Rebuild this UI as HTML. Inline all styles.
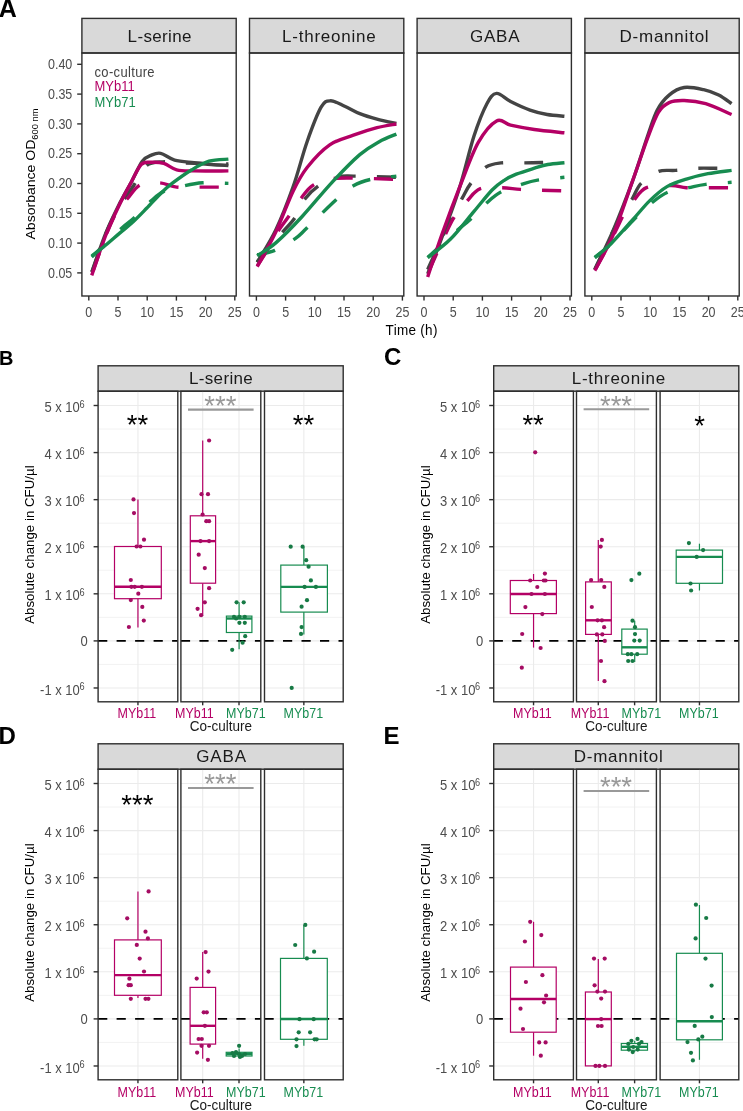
<!DOCTYPE html>
<html><head><meta charset="utf-8"><style>
html,body{margin:0;padding:0;background:#fff;}
svg{display:block;font-family:"Liberation Sans", sans-serif;will-change:transform;}
</style></head><body>
<svg width="743" height="1111" viewBox="0 0 743 1111">
<rect x="81.9" y="18.4" width="154.3" height="34.6" fill="#d9d9d9" stroke="#2e2e2e" stroke-width="1.4"/>
<text x="159.55" y="41.5" font-size="17" fill="#1a1a1a" text-anchor="middle" font-weight="normal" textLength="63.9" lengthAdjust="spacing">L-serine</text>
<line x1="88.8" y1="296" x2="88.8" y2="300.6" stroke="#2e2e2e" stroke-width="1.4" stroke-linecap="butt"/>
<text transform="translate(88.8,317) scale(1,1.13)" font-size="12.5" fill="#4d4d4d" text-anchor="middle" >0</text>
<line x1="118" y1="296" x2="118" y2="300.6" stroke="#2e2e2e" stroke-width="1.4" stroke-linecap="butt"/>
<text transform="translate(118,317) scale(1,1.13)" font-size="12.5" fill="#4d4d4d" text-anchor="middle" >5</text>
<line x1="147.2" y1="296" x2="147.2" y2="300.6" stroke="#2e2e2e" stroke-width="1.4" stroke-linecap="butt"/>
<text transform="translate(147.2,317) scale(1,1.13)" font-size="12.5" fill="#4d4d4d" text-anchor="middle" >10</text>
<line x1="176.4" y1="296" x2="176.4" y2="300.6" stroke="#2e2e2e" stroke-width="1.4" stroke-linecap="butt"/>
<text transform="translate(176.4,317) scale(1,1.13)" font-size="12.5" fill="#4d4d4d" text-anchor="middle" >15</text>
<line x1="205.6" y1="296" x2="205.6" y2="300.6" stroke="#2e2e2e" stroke-width="1.4" stroke-linecap="butt"/>
<text transform="translate(205.6,317) scale(1,1.13)" font-size="12.5" fill="#4d4d4d" text-anchor="middle" >20</text>
<line x1="234.8" y1="296" x2="234.8" y2="300.6" stroke="#2e2e2e" stroke-width="1.4" stroke-linecap="butt"/>
<text transform="translate(234.8,317) scale(1,1.13)" font-size="12.5" fill="#4d4d4d" text-anchor="middle" >25</text>
<rect x="249.5" y="18.4" width="154.3" height="34.6" fill="#d9d9d9" stroke="#2e2e2e" stroke-width="1.4"/>
<text x="328.85" y="41.5" font-size="17" fill="#1a1a1a" text-anchor="middle" font-weight="normal" textLength="93.5" lengthAdjust="spacing">L-threonine</text>
<line x1="256.4" y1="296" x2="256.4" y2="300.6" stroke="#2e2e2e" stroke-width="1.4" stroke-linecap="butt"/>
<text transform="translate(256.4,317) scale(1,1.13)" font-size="12.5" fill="#4d4d4d" text-anchor="middle" >0</text>
<line x1="285.6" y1="296" x2="285.6" y2="300.6" stroke="#2e2e2e" stroke-width="1.4" stroke-linecap="butt"/>
<text transform="translate(285.6,317) scale(1,1.13)" font-size="12.5" fill="#4d4d4d" text-anchor="middle" >5</text>
<line x1="314.8" y1="296" x2="314.8" y2="300.6" stroke="#2e2e2e" stroke-width="1.4" stroke-linecap="butt"/>
<text transform="translate(314.8,317) scale(1,1.13)" font-size="12.5" fill="#4d4d4d" text-anchor="middle" >10</text>
<line x1="344" y1="296" x2="344" y2="300.6" stroke="#2e2e2e" stroke-width="1.4" stroke-linecap="butt"/>
<text transform="translate(344,317) scale(1,1.13)" font-size="12.5" fill="#4d4d4d" text-anchor="middle" >15</text>
<line x1="373.2" y1="296" x2="373.2" y2="300.6" stroke="#2e2e2e" stroke-width="1.4" stroke-linecap="butt"/>
<text transform="translate(373.2,317) scale(1,1.13)" font-size="12.5" fill="#4d4d4d" text-anchor="middle" >20</text>
<line x1="402.4" y1="296" x2="402.4" y2="300.6" stroke="#2e2e2e" stroke-width="1.4" stroke-linecap="butt"/>
<text transform="translate(402.4,317) scale(1,1.13)" font-size="12.5" fill="#4d4d4d" text-anchor="middle" >25</text>
<rect x="417.1" y="18.4" width="154.3" height="34.6" fill="#d9d9d9" stroke="#2e2e2e" stroke-width="1.4"/>
<text x="494.75" y="41.5" font-size="17" fill="#1a1a1a" text-anchor="middle" font-weight="normal" textLength="49.7" lengthAdjust="spacing">GABA</text>
<line x1="424" y1="296" x2="424" y2="300.6" stroke="#2e2e2e" stroke-width="1.4" stroke-linecap="butt"/>
<text transform="translate(424,317) scale(1,1.13)" font-size="12.5" fill="#4d4d4d" text-anchor="middle" >0</text>
<line x1="453.2" y1="296" x2="453.2" y2="300.6" stroke="#2e2e2e" stroke-width="1.4" stroke-linecap="butt"/>
<text transform="translate(453.2,317) scale(1,1.13)" font-size="12.5" fill="#4d4d4d" text-anchor="middle" >5</text>
<line x1="482.4" y1="296" x2="482.4" y2="300.6" stroke="#2e2e2e" stroke-width="1.4" stroke-linecap="butt"/>
<text transform="translate(482.4,317) scale(1,1.13)" font-size="12.5" fill="#4d4d4d" text-anchor="middle" >10</text>
<line x1="511.6" y1="296" x2="511.6" y2="300.6" stroke="#2e2e2e" stroke-width="1.4" stroke-linecap="butt"/>
<text transform="translate(511.6,317) scale(1,1.13)" font-size="12.5" fill="#4d4d4d" text-anchor="middle" >15</text>
<line x1="540.8" y1="296" x2="540.8" y2="300.6" stroke="#2e2e2e" stroke-width="1.4" stroke-linecap="butt"/>
<text transform="translate(540.8,317) scale(1,1.13)" font-size="12.5" fill="#4d4d4d" text-anchor="middle" >20</text>
<line x1="570" y1="296" x2="570" y2="300.6" stroke="#2e2e2e" stroke-width="1.4" stroke-linecap="butt"/>
<text transform="translate(570,317) scale(1,1.13)" font-size="12.5" fill="#4d4d4d" text-anchor="middle" >25</text>
<rect x="584.9" y="18.4" width="154.3" height="34.6" fill="#d9d9d9" stroke="#2e2e2e" stroke-width="1.4"/>
<text x="664.05" y="41.5" font-size="17" fill="#1a1a1a" text-anchor="middle" font-weight="normal" textLength="89.2" lengthAdjust="spacing">D-mannitol</text>
<line x1="591.8" y1="296" x2="591.8" y2="300.6" stroke="#2e2e2e" stroke-width="1.4" stroke-linecap="butt"/>
<text transform="translate(591.8,317) scale(1,1.13)" font-size="12.5" fill="#4d4d4d" text-anchor="middle" >0</text>
<line x1="621" y1="296" x2="621" y2="300.6" stroke="#2e2e2e" stroke-width="1.4" stroke-linecap="butt"/>
<text transform="translate(621,317) scale(1,1.13)" font-size="12.5" fill="#4d4d4d" text-anchor="middle" >5</text>
<line x1="650.2" y1="296" x2="650.2" y2="300.6" stroke="#2e2e2e" stroke-width="1.4" stroke-linecap="butt"/>
<text transform="translate(650.2,317) scale(1,1.13)" font-size="12.5" fill="#4d4d4d" text-anchor="middle" >10</text>
<line x1="679.4" y1="296" x2="679.4" y2="300.6" stroke="#2e2e2e" stroke-width="1.4" stroke-linecap="butt"/>
<text transform="translate(679.4,317) scale(1,1.13)" font-size="12.5" fill="#4d4d4d" text-anchor="middle" >15</text>
<line x1="708.6" y1="296" x2="708.6" y2="300.6" stroke="#2e2e2e" stroke-width="1.4" stroke-linecap="butt"/>
<text transform="translate(708.6,317) scale(1,1.13)" font-size="12.5" fill="#4d4d4d" text-anchor="middle" >20</text>
<line x1="737.8" y1="296" x2="737.8" y2="300.6" stroke="#2e2e2e" stroke-width="1.4" stroke-linecap="butt"/>
<text transform="translate(737.8,317) scale(1,1.13)" font-size="12.5" fill="#4d4d4d" text-anchor="middle" >25</text>
<line x1="77.2" y1="272.9" x2="81.9" y2="272.9" stroke="#2e2e2e" stroke-width="1.4" stroke-linecap="butt"/>
<text transform="translate(72.3,277.5) scale(1,1.13)" font-size="12.5" fill="#4d4d4d" text-anchor="end" >0.05</text>
<line x1="77.2" y1="243.1" x2="81.9" y2="243.1" stroke="#2e2e2e" stroke-width="1.4" stroke-linecap="butt"/>
<text transform="translate(72.3,247.7) scale(1,1.13)" font-size="12.5" fill="#4d4d4d" text-anchor="end" >0.10</text>
<line x1="77.2" y1="213.3" x2="81.9" y2="213.3" stroke="#2e2e2e" stroke-width="1.4" stroke-linecap="butt"/>
<text transform="translate(72.3,217.9) scale(1,1.13)" font-size="12.5" fill="#4d4d4d" text-anchor="end" >0.15</text>
<line x1="77.2" y1="183.5" x2="81.9" y2="183.5" stroke="#2e2e2e" stroke-width="1.4" stroke-linecap="butt"/>
<text transform="translate(72.3,188.1) scale(1,1.13)" font-size="12.5" fill="#4d4d4d" text-anchor="end" >0.20</text>
<line x1="77.2" y1="153.7" x2="81.9" y2="153.7" stroke="#2e2e2e" stroke-width="1.4" stroke-linecap="butt"/>
<text transform="translate(72.3,158.3) scale(1,1.13)" font-size="12.5" fill="#4d4d4d" text-anchor="end" >0.25</text>
<line x1="77.2" y1="123.9" x2="81.9" y2="123.9" stroke="#2e2e2e" stroke-width="1.4" stroke-linecap="butt"/>
<text transform="translate(72.3,128.5) scale(1,1.13)" font-size="12.5" fill="#4d4d4d" text-anchor="end" >0.30</text>
<line x1="77.2" y1="94.1" x2="81.9" y2="94.1" stroke="#2e2e2e" stroke-width="1.4" stroke-linecap="butt"/>
<text transform="translate(72.3,98.7) scale(1,1.13)" font-size="12.5" fill="#4d4d4d" text-anchor="end" >0.35</text>
<line x1="77.2" y1="64.3" x2="81.9" y2="64.3" stroke="#2e2e2e" stroke-width="1.4" stroke-linecap="butt"/>
<text transform="translate(72.3,68.9) scale(1,1.13)" font-size="12.5" fill="#4d4d4d" text-anchor="end" >0.40</text>
<text x="-1.2" y="17.2" font-size="25" fill="#000" text-anchor="start" font-weight="bold" >A</text>
<text transform="translate(411.5,335) scale(1,1.06)" font-size="13.5" fill="#000" text-anchor="middle" font-weight="normal" textLength="51.8" lengthAdjust="spacing">Time (h)</text>
<text transform="translate(34.5,174) rotate(-90) scale(1.04,1)" font-size="13.5" fill="#000" text-anchor="middle">Absorbance OD<tspan font-size="9" dy="3">600 nm</tspan></text>
<text transform="translate(94.5,76.6) scale(1,1.08)" font-size="13" fill="#444444" text-anchor="start" font-weight="normal" textLength="60.1" lengthAdjust="spacing">co-culture</text>
<text transform="translate(94.5,91.4) scale(1,1.08)" font-size="13" fill="#b40065" text-anchor="start" font-weight="normal" >MYb11</text>
<text transform="translate(94.5,106.5) scale(1,1.08)" font-size="13" fill="#178c50" text-anchor="start" font-weight="normal" >MYb71</text>
<rect x="81.9" y="53" width="154.3" height="243" fill="none" stroke="#2e2e2e" stroke-width="1.4"/>
<rect x="249.5" y="53" width="154.3" height="243" fill="none" stroke="#2e2e2e" stroke-width="1.4"/>
<rect x="417.1" y="53" width="154.3" height="243" fill="none" stroke="#2e2e2e" stroke-width="1.4"/>
<rect x="584.9" y="53" width="154.3" height="243" fill="none" stroke="#2e2e2e" stroke-width="1.4"/>
<path d="M91.7,273 C94.03,266.5 101.22,245 105.7,234 C110.18,223 115.22,213.17 118.6,207 C121.98,200.83 123.43,200.67 126,197 C128.57,193.33 130.57,190.25 134,185 C137.43,179.75 141.8,169.35 146.6,165.5 C151.4,161.65 157.23,162.32 162.8,161.9 C168.37,161.48 169.07,162.65 180,163 C190.93,163.35 220.33,163.83 228.4,164" fill="none" stroke="#444444" stroke-width="3.4" stroke-linejoin="round" stroke-dasharray="19 21" stroke-dashoffset="-1.6"/>
<path d="M91.7,275 C94.03,268.5 101.22,247.17 105.7,236 C110.18,224.83 115.02,214.18 118.6,208 C122.18,201.82 123.62,202.75 127.2,198.9 C130.78,195.05 134.72,187.58 140.1,184.9 C145.48,182.22 153.4,182.43 159.5,182.8 C165.6,183.17 170.05,186.38 176.7,187.1 C183.35,187.82 190.78,187.1 199.4,187.1 C208.02,187.1 223.57,187.1 228.4,187.1" fill="none" stroke="#b40065" stroke-width="3.4" stroke-linejoin="round" stroke-dasharray="19 21" stroke-dashoffset="-4.4"/>
<path d="M91.7,257 C96.55,252.33 113.8,235.45 120.8,229 C127.8,222.55 128.68,222.95 133.7,218.3 C138.72,213.65 145.88,205.58 150.9,201.1 C155.92,196.62 158.42,193.92 163.8,191.4 C169.18,188.88 176.73,187.43 183.2,186 C189.67,184.57 195.07,183.23 202.6,182.8 C210.13,182.37 224.1,183.3 228.4,183.4" fill="none" stroke="#178c50" stroke-width="3.4" stroke-linejoin="round" stroke-dasharray="19 21" stroke-dashoffset="0.3"/>
<path d="M91.7,272.1 C94.03,265.65 101.22,244.52 105.7,233.4 C110.18,222.28 114.3,214.02 118.6,205.4 C122.9,196.78 127.55,189.07 131.5,181.7 C135.45,174.33 139.07,165.58 142.3,161.2 C145.53,156.82 147.85,156.72 150.9,155.4 C153.95,154.08 156.65,152.52 160.6,153.3 C164.55,154.08 169.03,158.53 174.6,160.1 C180.17,161.67 187.9,161.97 194,162.7 C200.1,163.43 205.47,164.03 211.2,164.5 C216.93,164.97 225.53,165.33 228.4,165.5" fill="none" stroke="#444444" stroke-width="3.4" stroke-linejoin="round"/>
<path d="M91.7,275.4 C94.03,268.75 101.22,247 105.7,235.5 C110.18,224 114.3,215.37 118.6,206.4 C122.9,197.43 127.73,188.68 131.5,181.7 C135.27,174.72 137.97,167.73 141.2,164.5 C144.43,161.27 147.13,162.48 150.9,162.3 C154.67,162.12 159.5,162.15 163.8,163.4 C168.1,164.65 171.67,168.55 176.7,169.8 C181.73,171.05 185.38,170.72 194,170.9 C202.62,171.08 222.67,170.9 228.4,170.9" fill="none" stroke="#b40065" stroke-width="3.4" stroke-linejoin="round"/>
<path d="M91.7,256 C93.67,254.5 98.83,250.82 103.5,247 C108.17,243.18 114.85,237.22 119.7,233.1 C124.55,228.98 128.12,226.43 132.6,222.3 C137.08,218.17 141.7,213.32 146.6,208.3 C151.5,203.28 157.7,196.38 162,192.2 C166.3,188.02 167.43,186.93 172.4,183.2 C177.37,179.47 185.7,173.47 191.8,169.8 C197.9,166.13 202.9,162.98 209,161.2 C215.1,159.42 225.17,159.45 228.4,159.1" fill="none" stroke="#178c50" stroke-width="3.4" stroke-linejoin="round"/>
<path d="M257.2,262 C259.33,259.33 265.82,250.93 270,246 C274.18,241.07 278.1,237.17 282.3,232.4 C286.5,227.63 291.43,222.97 295.2,217.4 C298.97,211.83 300.95,204.3 304.9,199 C308.85,193.7 313.7,189.23 318.9,185.6 C324.1,181.97 330.35,178.78 336.1,177.2 C341.85,175.62 343.35,176.1 353.4,176.1 C363.45,176.1 389.23,177.02 396.4,177.2" fill="none" stroke="#444444" stroke-width="3.4" stroke-linejoin="round" stroke-dasharray="19 21" stroke-dashoffset="1.1"/>
<path d="M257.2,266 C259.33,262.67 266.53,251.77 270,246 C273.47,240.23 274.87,236.35 278,231.4 C281.13,226.45 285.03,221.7 288.8,216.3 C292.57,210.9 296.48,204.22 300.6,199 C304.72,193.78 307.58,188.45 313.5,185 C319.42,181.55 322.28,179.23 336.1,178.3 C349.92,177.37 386.35,179.22 396.4,179.4" fill="none" stroke="#b40065" stroke-width="3.4" stroke-linejoin="round" stroke-dasharray="19 21" stroke-dashoffset="-0.7"/>
<path d="M257.2,254.7 C260.13,253.98 268.47,253.08 274.8,250.4 C281.13,247.72 289.82,242.37 295.2,238.6 C300.58,234.83 300.28,234.27 307.1,227.8 C313.92,221.33 328.38,206.8 336.1,199.8 C343.82,192.8 347.65,189.2 353.4,185.8 C359.15,182.4 363.43,181.02 370.6,179.4 C377.77,177.78 392.1,176.65 396.4,176.1" fill="none" stroke="#178c50" stroke-width="3.4" stroke-linejoin="round" stroke-dasharray="19 21" stroke-dashoffset="0.5"/>
<path d="M257.2,262.3 C260.3,256.92 269.82,242.57 275.8,230 C281.78,217.43 287.88,201.62 293.1,186.9 C298.32,172.18 302.43,154.98 307.1,141.7 C311.77,128.42 317.17,114.02 321.1,107.2 C325.03,100.38 326.77,100.97 330.7,100.8 C334.63,100.63 339.85,104.05 344.7,106.2 C349.55,108.35 354.42,111.55 359.8,113.7 C365.18,115.85 370.9,117.48 377,119.1 C383.1,120.72 393.17,122.68 396.4,123.4" fill="none" stroke="#444444" stroke-width="3.4" stroke-linejoin="round"/>
<path d="M257.2,266.6 C260.3,260.85 269.82,244.67 275.8,232.1 C281.78,219.53 287.88,201.97 293.1,191.2 C298.32,180.43 301,175.22 307.1,167.5 C313.2,159.78 321.98,150.28 329.7,144.9 C337.42,139.52 345.52,138.07 353.4,135.2 C361.28,132.33 369.83,129.57 377,127.7 C384.17,125.83 393.17,124.62 396.4,124" fill="none" stroke="#b40065" stroke-width="3.4" stroke-linejoin="round"/>
<path d="M257.2,255.8 C260.3,253.65 268.38,249.37 275.8,242.9 C283.22,236.43 292.37,227.05 301.7,217 C311.03,206.95 322.12,193 331.8,182.6 C341.48,172.2 351.9,161.42 359.8,154.6 C367.7,147.78 373.1,145.12 379.2,141.7 C385.3,138.28 393.53,135.37 396.4,134.1" fill="none" stroke="#178c50" stroke-width="3.4" stroke-linejoin="round"/>
<path d="M427.7,269.5 C431.47,261.25 444.57,231.85 450.3,220 C456.03,208.15 458.68,204.5 462.1,198.4 C465.52,192.3 466.85,188.6 470.8,183.4 C474.75,178.2 480.78,170.62 485.8,167.2 C490.82,163.78 494.62,163.62 500.9,162.9 C507.18,162.18 516.68,162.97 523.5,162.9 C530.32,162.83 534.98,162.57 541.8,162.5 C548.62,162.43 560.63,162.5 564.4,162.5" fill="none" stroke="#444444" stroke-width="3.4" stroke-linejoin="round" stroke-dasharray="19 21" stroke-dashoffset="2.2"/>
<path d="M427.7,273.8 C431.83,264.83 445.87,232.2 452.5,220 C459.13,207.8 462.85,205.82 467.5,200.6 C472.15,195.38 474.65,190.85 480.4,188.7 C486.15,186.55 495.35,187.58 502,187.7 C508.65,187.82 513.67,188.97 520.3,189.4 C526.93,189.83 534.45,190.05 541.8,190.3 C549.15,190.55 560.63,190.8 564.4,190.9" fill="none" stroke="#b40065" stroke-width="3.4" stroke-linejoin="round" stroke-dasharray="19 21" stroke-dashoffset="-3.5"/>
<path d="M427.7,257.6 C432.55,253.12 449.8,236.97 456.8,230.7 C463.8,224.43 464.68,224.67 469.7,220 C474.72,215.33 481.7,207.37 486.9,202.7 C492.1,198.03 495.15,195.05 500.9,192 C506.65,188.95 515.3,186.38 521.4,184.4 C527.5,182.42 530.33,181.28 537.5,180.1 C544.67,178.92 559.92,177.77 564.4,177.3" fill="none" stroke="#178c50" stroke-width="3.4" stroke-linejoin="round" stroke-dasharray="19 21" stroke-dashoffset="0.2"/>
<path d="M427.7,273.8 C429.67,268.78 434.3,257.7 439.5,243.7 C444.7,229.7 453.15,207.75 458.9,189.8 C464.65,171.85 469.33,150.35 474,136 C478.67,121.65 483.13,110.8 486.9,103.7 C490.67,96.6 492.65,93.77 496.6,93.4 C500.55,93.03 505.03,98.72 510.6,101.5 C516.17,104.28 523.9,107.93 530,110.1 C536.1,112.27 541.47,113.48 547.2,114.5 C552.93,115.52 561.53,115.92 564.4,116.2" fill="none" stroke="#444444" stroke-width="3.4" stroke-linejoin="round"/>
<path d="M427.7,277 C430.03,270 436.13,250.6 441.7,235 C447.27,219.4 455,198.83 461.1,183.4 C467.2,167.97 472.38,152.82 478.3,142.4 C484.22,131.98 491.22,123.77 496.6,120.9 C501.98,118.03 504.32,123.77 510.6,125.2 C516.88,126.63 525.33,128.23 534.3,129.5 C543.27,130.77 559.38,132.25 564.4,132.8" fill="none" stroke="#b40065" stroke-width="3.4" stroke-linejoin="round"/>
<path d="M427.7,257.6 C431.47,254.55 442.58,247 450.3,239.3 C458.02,231.6 467.03,219.62 474,211.4 C480.97,203.18 487.07,195.18 492.1,190 C497.13,184.82 500.17,182.93 504.2,180.3 C508.23,177.67 511.25,176.22 516.3,174.2 C521.35,172.18 529.25,169.82 534.5,168.2 C539.75,166.58 542.82,165.42 547.8,164.5 C552.78,163.58 561.63,163 564.4,162.7" fill="none" stroke="#178c50" stroke-width="3.4" stroke-linejoin="round"/>
<path d="M594.8,269.5 C597.85,263.08 608.07,240.92 613.1,231 C618.13,221.08 621.77,215.43 625,210 C628.23,204.57 629.82,202.83 632.5,198.4 C635.18,193.97 636.78,187.88 641.1,183.4 C645.42,178.92 652.65,173.67 658.4,171.5 C664.15,169.33 669.15,170.93 675.6,170.4 C682.05,169.87 690.28,168.65 697.1,168.3 C703.92,167.95 710.75,168.3 716.5,168.3 C722.25,168.3 729.08,168.3 731.6,168.3" fill="none" stroke="#444444" stroke-width="3.4" stroke-linejoin="round" stroke-dasharray="19 21" stroke-dashoffset="0.8"/>
<path d="M594.8,270.6 C597.85,264.83 608.07,245.77 613.1,236 C618.13,226.23 621.58,217.9 625,212 C628.42,206.1 630.02,204.65 633.6,200.6 C637.18,196.55 640.22,190.22 646.5,187.7 C652.78,185.18 664.65,185.5 671.3,185.5 C677.95,185.5 680.3,187.33 686.4,187.7 C692.5,188.07 700.37,187.7 707.9,187.7 C715.43,187.7 727.65,187.7 731.6,187.7" fill="none" stroke="#b40065" stroke-width="3.4" stroke-linejoin="round" stroke-dasharray="19 21" stroke-dashoffset="-1.5"/>
<path d="M594.8,257.6 C597.5,255.33 604.72,250.1 611,244 C617.28,237.9 625.68,227.88 632.5,221 C639.32,214.12 645.97,207.53 651.9,202.7 C657.83,197.87 662,194.5 668.1,192 C674.2,189.5 682.23,188.97 688.5,187.7 C694.77,186.43 698.52,185.3 705.7,184.4 C712.88,183.5 727.28,182.65 731.6,182.3" fill="none" stroke="#178c50" stroke-width="3.4" stroke-linejoin="round" stroke-dasharray="19 21" stroke-dashoffset="0.7"/>
<path d="M594.8,269.5 C597.85,263.03 606.82,245.42 613.1,230.7 C619.38,215.98 626.75,196.98 632.5,181.2 C638.25,165.42 643.47,147.85 647.6,136 C651.73,124.15 653.72,116.92 657.3,110.1 C660.88,103.28 664.62,98.87 669.1,95.1 C673.58,91.33 678.45,88.4 684.2,87.5 C689.95,86.6 697.85,88.43 703.6,89.7 C709.35,90.97 714.03,92.77 718.7,95.1 C723.37,97.43 729.45,102.27 731.6,103.7" fill="none" stroke="#444444" stroke-width="3.4" stroke-linejoin="round"/>
<path d="M594.8,270.6 C597.85,264.67 606.82,249.9 613.1,235 C619.38,220.1 626.75,197.35 632.5,181.2 C638.25,165.05 643.28,149.58 647.6,138.1 C651.92,126.62 654.82,118.22 658.4,112.3 C661.98,106.38 664.8,104.57 669.1,102.6 C673.4,100.63 678.1,100.32 684.2,100.5 C690.3,100.68 697.8,101.37 705.7,103.7 C713.6,106.03 727.28,112.7 731.6,114.5" fill="none" stroke="#b40065" stroke-width="3.4" stroke-linejoin="round"/>
<path d="M594.8,257.6 C597.5,255.28 604.72,249.97 611,243.7 C617.28,237.43 626.03,227.18 632.5,220 C638.97,212.82 644.05,206.17 649.8,200.6 C655.55,195.03 660.9,190.18 667,186.6 C673.1,183.02 679.58,181.25 686.4,179.1 C693.22,176.95 700.37,175.15 707.9,173.7 C715.43,172.25 727.65,170.95 731.6,170.4" fill="none" stroke="#178c50" stroke-width="3.4" stroke-linejoin="round"/>
<rect x="98.1" y="365.8" width="245.1" height="25.4" fill="#d9d9d9" stroke="#2e2e2e" stroke-width="1.4"/>
<text x="220.85" y="384.4" font-size="17" fill="#1a1a1a" text-anchor="middle" font-weight="normal" textLength="63.9" lengthAdjust="spacing">L-serine</text>
<line x1="98.1" y1="687.98" x2="177.8" y2="687.98" stroke="#ebebeb" stroke-width="1.1" stroke-linecap="butt"/>
<line x1="98.1" y1="664.44" x2="177.8" y2="664.44" stroke="#ebebeb" stroke-width="0.6" stroke-linecap="butt"/>
<line x1="98.1" y1="640.9" x2="177.8" y2="640.9" stroke="#ebebeb" stroke-width="1.1" stroke-linecap="butt"/>
<line x1="98.1" y1="617.36" x2="177.8" y2="617.36" stroke="#ebebeb" stroke-width="0.6" stroke-linecap="butt"/>
<line x1="98.1" y1="593.82" x2="177.8" y2="593.82" stroke="#ebebeb" stroke-width="1.1" stroke-linecap="butt"/>
<line x1="98.1" y1="570.28" x2="177.8" y2="570.28" stroke="#ebebeb" stroke-width="0.6" stroke-linecap="butt"/>
<line x1="98.1" y1="546.74" x2="177.8" y2="546.74" stroke="#ebebeb" stroke-width="1.1" stroke-linecap="butt"/>
<line x1="98.1" y1="523.2" x2="177.8" y2="523.2" stroke="#ebebeb" stroke-width="0.6" stroke-linecap="butt"/>
<line x1="98.1" y1="499.66" x2="177.8" y2="499.66" stroke="#ebebeb" stroke-width="1.1" stroke-linecap="butt"/>
<line x1="98.1" y1="476.12" x2="177.8" y2="476.12" stroke="#ebebeb" stroke-width="0.6" stroke-linecap="butt"/>
<line x1="98.1" y1="452.58" x2="177.8" y2="452.58" stroke="#ebebeb" stroke-width="1.1" stroke-linecap="butt"/>
<line x1="98.1" y1="429.04" x2="177.8" y2="429.04" stroke="#ebebeb" stroke-width="0.6" stroke-linecap="butt"/>
<line x1="98.1" y1="405.5" x2="177.8" y2="405.5" stroke="#ebebeb" stroke-width="1.1" stroke-linecap="butt"/>
<line x1="137.95" y1="391.2" x2="137.95" y2="701.8" stroke="#ebebeb" stroke-width="1.1" stroke-linecap="butt"/>
<line x1="137.95" y1="701.8" x2="137.95" y2="705.3" stroke="#2e2e2e" stroke-width="1.4" stroke-linecap="butt"/>
<line x1="98.1" y1="640.9" x2="177.8" y2="640.9" stroke="#000" stroke-width="1.9" stroke-linecap="butt" stroke-dasharray="9.2 9.3"/>
<rect x="98.1" y="391.2" width="79.7" height="310.6" fill="none" stroke="#2e2e2e" stroke-width="1.4"/>
<line x1="180.9" y1="687.98" x2="260.8" y2="687.98" stroke="#ebebeb" stroke-width="1.1" stroke-linecap="butt"/>
<line x1="180.9" y1="664.44" x2="260.8" y2="664.44" stroke="#ebebeb" stroke-width="0.6" stroke-linecap="butt"/>
<line x1="180.9" y1="640.9" x2="260.8" y2="640.9" stroke="#ebebeb" stroke-width="1.1" stroke-linecap="butt"/>
<line x1="180.9" y1="617.36" x2="260.8" y2="617.36" stroke="#ebebeb" stroke-width="0.6" stroke-linecap="butt"/>
<line x1="180.9" y1="593.82" x2="260.8" y2="593.82" stroke="#ebebeb" stroke-width="1.1" stroke-linecap="butt"/>
<line x1="180.9" y1="570.28" x2="260.8" y2="570.28" stroke="#ebebeb" stroke-width="0.6" stroke-linecap="butt"/>
<line x1="180.9" y1="546.74" x2="260.8" y2="546.74" stroke="#ebebeb" stroke-width="1.1" stroke-linecap="butt"/>
<line x1="180.9" y1="523.2" x2="260.8" y2="523.2" stroke="#ebebeb" stroke-width="0.6" stroke-linecap="butt"/>
<line x1="180.9" y1="499.66" x2="260.8" y2="499.66" stroke="#ebebeb" stroke-width="1.1" stroke-linecap="butt"/>
<line x1="180.9" y1="476.12" x2="260.8" y2="476.12" stroke="#ebebeb" stroke-width="0.6" stroke-linecap="butt"/>
<line x1="180.9" y1="452.58" x2="260.8" y2="452.58" stroke="#ebebeb" stroke-width="1.1" stroke-linecap="butt"/>
<line x1="180.9" y1="429.04" x2="260.8" y2="429.04" stroke="#ebebeb" stroke-width="0.6" stroke-linecap="butt"/>
<line x1="180.9" y1="405.5" x2="260.8" y2="405.5" stroke="#ebebeb" stroke-width="1.1" stroke-linecap="butt"/>
<line x1="202.69" y1="391.2" x2="202.69" y2="701.8" stroke="#ebebeb" stroke-width="1.1" stroke-linecap="butt"/>
<line x1="202.69" y1="701.8" x2="202.69" y2="705.3" stroke="#2e2e2e" stroke-width="1.4" stroke-linecap="butt"/>
<line x1="239.01" y1="391.2" x2="239.01" y2="701.8" stroke="#ebebeb" stroke-width="1.1" stroke-linecap="butt"/>
<line x1="239.01" y1="701.8" x2="239.01" y2="705.3" stroke="#2e2e2e" stroke-width="1.4" stroke-linecap="butt"/>
<line x1="180.9" y1="640.9" x2="260.8" y2="640.9" stroke="#000" stroke-width="1.9" stroke-linecap="butt" stroke-dasharray="9.2 9.3"/>
<rect x="180.9" y="391.2" width="79.9" height="310.6" fill="none" stroke="#2e2e2e" stroke-width="1.4"/>
<line x1="264.5" y1="687.98" x2="343.2" y2="687.98" stroke="#ebebeb" stroke-width="1.1" stroke-linecap="butt"/>
<line x1="264.5" y1="664.44" x2="343.2" y2="664.44" stroke="#ebebeb" stroke-width="0.6" stroke-linecap="butt"/>
<line x1="264.5" y1="640.9" x2="343.2" y2="640.9" stroke="#ebebeb" stroke-width="1.1" stroke-linecap="butt"/>
<line x1="264.5" y1="617.36" x2="343.2" y2="617.36" stroke="#ebebeb" stroke-width="0.6" stroke-linecap="butt"/>
<line x1="264.5" y1="593.82" x2="343.2" y2="593.82" stroke="#ebebeb" stroke-width="1.1" stroke-linecap="butt"/>
<line x1="264.5" y1="570.28" x2="343.2" y2="570.28" stroke="#ebebeb" stroke-width="0.6" stroke-linecap="butt"/>
<line x1="264.5" y1="546.74" x2="343.2" y2="546.74" stroke="#ebebeb" stroke-width="1.1" stroke-linecap="butt"/>
<line x1="264.5" y1="523.2" x2="343.2" y2="523.2" stroke="#ebebeb" stroke-width="0.6" stroke-linecap="butt"/>
<line x1="264.5" y1="499.66" x2="343.2" y2="499.66" stroke="#ebebeb" stroke-width="1.1" stroke-linecap="butt"/>
<line x1="264.5" y1="476.12" x2="343.2" y2="476.12" stroke="#ebebeb" stroke-width="0.6" stroke-linecap="butt"/>
<line x1="264.5" y1="452.58" x2="343.2" y2="452.58" stroke="#ebebeb" stroke-width="1.1" stroke-linecap="butt"/>
<line x1="264.5" y1="429.04" x2="343.2" y2="429.04" stroke="#ebebeb" stroke-width="0.6" stroke-linecap="butt"/>
<line x1="264.5" y1="405.5" x2="343.2" y2="405.5" stroke="#ebebeb" stroke-width="1.1" stroke-linecap="butt"/>
<line x1="303.85" y1="391.2" x2="303.85" y2="701.8" stroke="#ebebeb" stroke-width="1.1" stroke-linecap="butt"/>
<line x1="303.85" y1="701.8" x2="303.85" y2="705.3" stroke="#2e2e2e" stroke-width="1.4" stroke-linecap="butt"/>
<line x1="264.5" y1="640.9" x2="343.2" y2="640.9" stroke="#000" stroke-width="1.9" stroke-linecap="butt" stroke-dasharray="9.2 9.3"/>
<rect x="264.5" y="391.2" width="78.7" height="310.6" fill="none" stroke="#2e2e2e" stroke-width="1.4"/>
<line x1="93.6" y1="687.98" x2="98.1" y2="687.98" stroke="#2e2e2e" stroke-width="1.4" stroke-linecap="butt"/>
<text transform="translate(79.8,694.58) scale(1,1.13)" font-size="13" fill="#4d4d4d" text-anchor="end" >-1 x 10</text>
<text transform="translate(79.5,690.38) scale(1,1.13)" font-size="9.2" fill="#4d4d4d" text-anchor="start" >6</text>
<line x1="93.6" y1="640.9" x2="98.1" y2="640.9" stroke="#2e2e2e" stroke-width="1.4" stroke-linecap="butt"/>
<text transform="translate(87.7,645.6) scale(1,1.13)" font-size="13" fill="#4d4d4d" text-anchor="end" >0</text>
<line x1="93.6" y1="593.82" x2="98.1" y2="593.82" stroke="#2e2e2e" stroke-width="1.4" stroke-linecap="butt"/>
<text transform="translate(79.8,600.42) scale(1,1.13)" font-size="13" fill="#4d4d4d" text-anchor="end" >1 x 10</text>
<text transform="translate(79.5,596.22) scale(1,1.13)" font-size="9.2" fill="#4d4d4d" text-anchor="start" >6</text>
<line x1="93.6" y1="546.74" x2="98.1" y2="546.74" stroke="#2e2e2e" stroke-width="1.4" stroke-linecap="butt"/>
<text transform="translate(79.8,553.34) scale(1,1.13)" font-size="13" fill="#4d4d4d" text-anchor="end" >2 x 10</text>
<text transform="translate(79.5,549.14) scale(1,1.13)" font-size="9.2" fill="#4d4d4d" text-anchor="start" >6</text>
<line x1="93.6" y1="499.66" x2="98.1" y2="499.66" stroke="#2e2e2e" stroke-width="1.4" stroke-linecap="butt"/>
<text transform="translate(79.8,506.26) scale(1,1.13)" font-size="13" fill="#4d4d4d" text-anchor="end" >3 x 10</text>
<text transform="translate(79.5,502.06) scale(1,1.13)" font-size="9.2" fill="#4d4d4d" text-anchor="start" >6</text>
<line x1="93.6" y1="452.58" x2="98.1" y2="452.58" stroke="#2e2e2e" stroke-width="1.4" stroke-linecap="butt"/>
<text transform="translate(79.8,459.18) scale(1,1.13)" font-size="13" fill="#4d4d4d" text-anchor="end" >4 x 10</text>
<text transform="translate(79.5,454.98) scale(1,1.13)" font-size="9.2" fill="#4d4d4d" text-anchor="start" >6</text>
<line x1="93.6" y1="405.5" x2="98.1" y2="405.5" stroke="#2e2e2e" stroke-width="1.4" stroke-linecap="butt"/>
<text transform="translate(79.8,412.1) scale(1,1.13)" font-size="13" fill="#4d4d4d" text-anchor="end" >5 x 10</text>
<text transform="translate(79.5,407.9) scale(1,1.13)" font-size="9.2" fill="#4d4d4d" text-anchor="start" >6</text>
<text transform="translate(34.3,544.6) rotate(-90)" font-size="13.3" fill="#000" text-anchor="middle">Absolute change in CFU/µl</text>
<text transform="translate(136.8,718) scale(1,1.12)" font-size="12.5" fill="#b40065" text-anchor="middle" font-weight="normal" >MYb11</text>
<text transform="translate(194.4,718) scale(1,1.12)" font-size="12.5" fill="#b40065" text-anchor="middle" font-weight="normal" >MYb11</text>
<text transform="translate(245.8,718) scale(1,1.12)" font-size="12.5" fill="#178c50" text-anchor="middle" font-weight="normal" >MYb71</text>
<text transform="translate(303.3,718) scale(1,1.12)" font-size="12.5" fill="#178c50" text-anchor="middle" font-weight="normal" >MYb71</text>
<text transform="translate(220.85,731) scale(1,1.08)" font-size="13.5" fill="#1a1a1a" text-anchor="middle" font-weight="normal" >Co-culture</text>
<rect x="493.7" y="365.8" width="245.1" height="25.4" fill="#d9d9d9" stroke="#2e2e2e" stroke-width="1.4"/>
<text x="618.45" y="384.4" font-size="17" fill="#1a1a1a" text-anchor="middle" font-weight="normal" textLength="93.5" lengthAdjust="spacing">L-threonine</text>
<line x1="493.7" y1="687.98" x2="573.4" y2="687.98" stroke="#ebebeb" stroke-width="1.1" stroke-linecap="butt"/>
<line x1="493.7" y1="664.44" x2="573.4" y2="664.44" stroke="#ebebeb" stroke-width="0.6" stroke-linecap="butt"/>
<line x1="493.7" y1="640.9" x2="573.4" y2="640.9" stroke="#ebebeb" stroke-width="1.1" stroke-linecap="butt"/>
<line x1="493.7" y1="617.36" x2="573.4" y2="617.36" stroke="#ebebeb" stroke-width="0.6" stroke-linecap="butt"/>
<line x1="493.7" y1="593.82" x2="573.4" y2="593.82" stroke="#ebebeb" stroke-width="1.1" stroke-linecap="butt"/>
<line x1="493.7" y1="570.28" x2="573.4" y2="570.28" stroke="#ebebeb" stroke-width="0.6" stroke-linecap="butt"/>
<line x1="493.7" y1="546.74" x2="573.4" y2="546.74" stroke="#ebebeb" stroke-width="1.1" stroke-linecap="butt"/>
<line x1="493.7" y1="523.2" x2="573.4" y2="523.2" stroke="#ebebeb" stroke-width="0.6" stroke-linecap="butt"/>
<line x1="493.7" y1="499.66" x2="573.4" y2="499.66" stroke="#ebebeb" stroke-width="1.1" stroke-linecap="butt"/>
<line x1="493.7" y1="476.12" x2="573.4" y2="476.12" stroke="#ebebeb" stroke-width="0.6" stroke-linecap="butt"/>
<line x1="493.7" y1="452.58" x2="573.4" y2="452.58" stroke="#ebebeb" stroke-width="1.1" stroke-linecap="butt"/>
<line x1="493.7" y1="429.04" x2="573.4" y2="429.04" stroke="#ebebeb" stroke-width="0.6" stroke-linecap="butt"/>
<line x1="493.7" y1="405.5" x2="573.4" y2="405.5" stroke="#ebebeb" stroke-width="1.1" stroke-linecap="butt"/>
<line x1="533.55" y1="391.2" x2="533.55" y2="701.8" stroke="#ebebeb" stroke-width="1.1" stroke-linecap="butt"/>
<line x1="533.55" y1="701.8" x2="533.55" y2="705.3" stroke="#2e2e2e" stroke-width="1.4" stroke-linecap="butt"/>
<line x1="493.7" y1="640.9" x2="573.4" y2="640.9" stroke="#000" stroke-width="1.9" stroke-linecap="butt" stroke-dasharray="9.2 9.3"/>
<rect x="493.7" y="391.2" width="79.7" height="310.6" fill="none" stroke="#2e2e2e" stroke-width="1.4"/>
<line x1="576.5" y1="687.98" x2="656.4" y2="687.98" stroke="#ebebeb" stroke-width="1.1" stroke-linecap="butt"/>
<line x1="576.5" y1="664.44" x2="656.4" y2="664.44" stroke="#ebebeb" stroke-width="0.6" stroke-linecap="butt"/>
<line x1="576.5" y1="640.9" x2="656.4" y2="640.9" stroke="#ebebeb" stroke-width="1.1" stroke-linecap="butt"/>
<line x1="576.5" y1="617.36" x2="656.4" y2="617.36" stroke="#ebebeb" stroke-width="0.6" stroke-linecap="butt"/>
<line x1="576.5" y1="593.82" x2="656.4" y2="593.82" stroke="#ebebeb" stroke-width="1.1" stroke-linecap="butt"/>
<line x1="576.5" y1="570.28" x2="656.4" y2="570.28" stroke="#ebebeb" stroke-width="0.6" stroke-linecap="butt"/>
<line x1="576.5" y1="546.74" x2="656.4" y2="546.74" stroke="#ebebeb" stroke-width="1.1" stroke-linecap="butt"/>
<line x1="576.5" y1="523.2" x2="656.4" y2="523.2" stroke="#ebebeb" stroke-width="0.6" stroke-linecap="butt"/>
<line x1="576.5" y1="499.66" x2="656.4" y2="499.66" stroke="#ebebeb" stroke-width="1.1" stroke-linecap="butt"/>
<line x1="576.5" y1="476.12" x2="656.4" y2="476.12" stroke="#ebebeb" stroke-width="0.6" stroke-linecap="butt"/>
<line x1="576.5" y1="452.58" x2="656.4" y2="452.58" stroke="#ebebeb" stroke-width="1.1" stroke-linecap="butt"/>
<line x1="576.5" y1="429.04" x2="656.4" y2="429.04" stroke="#ebebeb" stroke-width="0.6" stroke-linecap="butt"/>
<line x1="576.5" y1="405.5" x2="656.4" y2="405.5" stroke="#ebebeb" stroke-width="1.1" stroke-linecap="butt"/>
<line x1="598.29" y1="391.2" x2="598.29" y2="701.8" stroke="#ebebeb" stroke-width="1.1" stroke-linecap="butt"/>
<line x1="598.29" y1="701.8" x2="598.29" y2="705.3" stroke="#2e2e2e" stroke-width="1.4" stroke-linecap="butt"/>
<line x1="634.61" y1="391.2" x2="634.61" y2="701.8" stroke="#ebebeb" stroke-width="1.1" stroke-linecap="butt"/>
<line x1="634.61" y1="701.8" x2="634.61" y2="705.3" stroke="#2e2e2e" stroke-width="1.4" stroke-linecap="butt"/>
<line x1="576.5" y1="640.9" x2="656.4" y2="640.9" stroke="#000" stroke-width="1.9" stroke-linecap="butt" stroke-dasharray="9.2 9.3"/>
<rect x="576.5" y="391.2" width="79.9" height="310.6" fill="none" stroke="#2e2e2e" stroke-width="1.4"/>
<line x1="660.1" y1="687.98" x2="738.8" y2="687.98" stroke="#ebebeb" stroke-width="1.1" stroke-linecap="butt"/>
<line x1="660.1" y1="664.44" x2="738.8" y2="664.44" stroke="#ebebeb" stroke-width="0.6" stroke-linecap="butt"/>
<line x1="660.1" y1="640.9" x2="738.8" y2="640.9" stroke="#ebebeb" stroke-width="1.1" stroke-linecap="butt"/>
<line x1="660.1" y1="617.36" x2="738.8" y2="617.36" stroke="#ebebeb" stroke-width="0.6" stroke-linecap="butt"/>
<line x1="660.1" y1="593.82" x2="738.8" y2="593.82" stroke="#ebebeb" stroke-width="1.1" stroke-linecap="butt"/>
<line x1="660.1" y1="570.28" x2="738.8" y2="570.28" stroke="#ebebeb" stroke-width="0.6" stroke-linecap="butt"/>
<line x1="660.1" y1="546.74" x2="738.8" y2="546.74" stroke="#ebebeb" stroke-width="1.1" stroke-linecap="butt"/>
<line x1="660.1" y1="523.2" x2="738.8" y2="523.2" stroke="#ebebeb" stroke-width="0.6" stroke-linecap="butt"/>
<line x1="660.1" y1="499.66" x2="738.8" y2="499.66" stroke="#ebebeb" stroke-width="1.1" stroke-linecap="butt"/>
<line x1="660.1" y1="476.12" x2="738.8" y2="476.12" stroke="#ebebeb" stroke-width="0.6" stroke-linecap="butt"/>
<line x1="660.1" y1="452.58" x2="738.8" y2="452.58" stroke="#ebebeb" stroke-width="1.1" stroke-linecap="butt"/>
<line x1="660.1" y1="429.04" x2="738.8" y2="429.04" stroke="#ebebeb" stroke-width="0.6" stroke-linecap="butt"/>
<line x1="660.1" y1="405.5" x2="738.8" y2="405.5" stroke="#ebebeb" stroke-width="1.1" stroke-linecap="butt"/>
<line x1="699.45" y1="391.2" x2="699.45" y2="701.8" stroke="#ebebeb" stroke-width="1.1" stroke-linecap="butt"/>
<line x1="699.45" y1="701.8" x2="699.45" y2="705.3" stroke="#2e2e2e" stroke-width="1.4" stroke-linecap="butt"/>
<line x1="660.1" y1="640.9" x2="738.8" y2="640.9" stroke="#000" stroke-width="1.9" stroke-linecap="butt" stroke-dasharray="9.2 9.3"/>
<rect x="660.1" y="391.2" width="78.7" height="310.6" fill="none" stroke="#2e2e2e" stroke-width="1.4"/>
<line x1="489.2" y1="687.98" x2="493.7" y2="687.98" stroke="#2e2e2e" stroke-width="1.4" stroke-linecap="butt"/>
<text transform="translate(475.4,694.58) scale(1,1.13)" font-size="13" fill="#4d4d4d" text-anchor="end" >-1 x 10</text>
<text transform="translate(475.1,690.38) scale(1,1.13)" font-size="9.2" fill="#4d4d4d" text-anchor="start" >6</text>
<line x1="489.2" y1="640.9" x2="493.7" y2="640.9" stroke="#2e2e2e" stroke-width="1.4" stroke-linecap="butt"/>
<text transform="translate(483.3,645.6) scale(1,1.13)" font-size="13" fill="#4d4d4d" text-anchor="end" >0</text>
<line x1="489.2" y1="593.82" x2="493.7" y2="593.82" stroke="#2e2e2e" stroke-width="1.4" stroke-linecap="butt"/>
<text transform="translate(475.4,600.42) scale(1,1.13)" font-size="13" fill="#4d4d4d" text-anchor="end" >1 x 10</text>
<text transform="translate(475.1,596.22) scale(1,1.13)" font-size="9.2" fill="#4d4d4d" text-anchor="start" >6</text>
<line x1="489.2" y1="546.74" x2="493.7" y2="546.74" stroke="#2e2e2e" stroke-width="1.4" stroke-linecap="butt"/>
<text transform="translate(475.4,553.34) scale(1,1.13)" font-size="13" fill="#4d4d4d" text-anchor="end" >2 x 10</text>
<text transform="translate(475.1,549.14) scale(1,1.13)" font-size="9.2" fill="#4d4d4d" text-anchor="start" >6</text>
<line x1="489.2" y1="499.66" x2="493.7" y2="499.66" stroke="#2e2e2e" stroke-width="1.4" stroke-linecap="butt"/>
<text transform="translate(475.4,506.26) scale(1,1.13)" font-size="13" fill="#4d4d4d" text-anchor="end" >3 x 10</text>
<text transform="translate(475.1,502.06) scale(1,1.13)" font-size="9.2" fill="#4d4d4d" text-anchor="start" >6</text>
<line x1="489.2" y1="452.58" x2="493.7" y2="452.58" stroke="#2e2e2e" stroke-width="1.4" stroke-linecap="butt"/>
<text transform="translate(475.4,459.18) scale(1,1.13)" font-size="13" fill="#4d4d4d" text-anchor="end" >4 x 10</text>
<text transform="translate(475.1,454.98) scale(1,1.13)" font-size="9.2" fill="#4d4d4d" text-anchor="start" >6</text>
<line x1="489.2" y1="405.5" x2="493.7" y2="405.5" stroke="#2e2e2e" stroke-width="1.4" stroke-linecap="butt"/>
<text transform="translate(475.4,412.1) scale(1,1.13)" font-size="13" fill="#4d4d4d" text-anchor="end" >5 x 10</text>
<text transform="translate(475.1,407.9) scale(1,1.13)" font-size="9.2" fill="#4d4d4d" text-anchor="start" >6</text>
<text transform="translate(429.9,544.6) rotate(-90)" font-size="13.3" fill="#000" text-anchor="middle">Absolute change in CFU/µl</text>
<text transform="translate(532.4,718) scale(1,1.12)" font-size="12.5" fill="#b40065" text-anchor="middle" font-weight="normal" >MYb11</text>
<text transform="translate(590,718) scale(1,1.12)" font-size="12.5" fill="#b40065" text-anchor="middle" font-weight="normal" >MYb11</text>
<text transform="translate(641.4,718) scale(1,1.12)" font-size="12.5" fill="#178c50" text-anchor="middle" font-weight="normal" >MYb71</text>
<text transform="translate(698.9,718) scale(1,1.12)" font-size="12.5" fill="#178c50" text-anchor="middle" font-weight="normal" >MYb71</text>
<text transform="translate(616.45,731) scale(1,1.08)" font-size="13.5" fill="#1a1a1a" text-anchor="middle" font-weight="normal" >Co-culture</text>
<rect x="98.1" y="743.8" width="245.1" height="25.4" fill="#d9d9d9" stroke="#2e2e2e" stroke-width="1.4"/>
<text x="221.15" y="762.4" font-size="17" fill="#1a1a1a" text-anchor="middle" font-weight="normal" textLength="49.7" lengthAdjust="spacing">GABA</text>
<line x1="98.1" y1="1065.98" x2="177.8" y2="1065.98" stroke="#ebebeb" stroke-width="1.1" stroke-linecap="butt"/>
<line x1="98.1" y1="1042.44" x2="177.8" y2="1042.44" stroke="#ebebeb" stroke-width="0.6" stroke-linecap="butt"/>
<line x1="98.1" y1="1018.9" x2="177.8" y2="1018.9" stroke="#ebebeb" stroke-width="1.1" stroke-linecap="butt"/>
<line x1="98.1" y1="995.36" x2="177.8" y2="995.36" stroke="#ebebeb" stroke-width="0.6" stroke-linecap="butt"/>
<line x1="98.1" y1="971.82" x2="177.8" y2="971.82" stroke="#ebebeb" stroke-width="1.1" stroke-linecap="butt"/>
<line x1="98.1" y1="948.28" x2="177.8" y2="948.28" stroke="#ebebeb" stroke-width="0.6" stroke-linecap="butt"/>
<line x1="98.1" y1="924.74" x2="177.8" y2="924.74" stroke="#ebebeb" stroke-width="1.1" stroke-linecap="butt"/>
<line x1="98.1" y1="901.2" x2="177.8" y2="901.2" stroke="#ebebeb" stroke-width="0.6" stroke-linecap="butt"/>
<line x1="98.1" y1="877.66" x2="177.8" y2="877.66" stroke="#ebebeb" stroke-width="1.1" stroke-linecap="butt"/>
<line x1="98.1" y1="854.12" x2="177.8" y2="854.12" stroke="#ebebeb" stroke-width="0.6" stroke-linecap="butt"/>
<line x1="98.1" y1="830.58" x2="177.8" y2="830.58" stroke="#ebebeb" stroke-width="1.1" stroke-linecap="butt"/>
<line x1="98.1" y1="807.04" x2="177.8" y2="807.04" stroke="#ebebeb" stroke-width="0.6" stroke-linecap="butt"/>
<line x1="98.1" y1="783.5" x2="177.8" y2="783.5" stroke="#ebebeb" stroke-width="1.1" stroke-linecap="butt"/>
<line x1="137.95" y1="769.2" x2="137.95" y2="1079.8" stroke="#ebebeb" stroke-width="1.1" stroke-linecap="butt"/>
<line x1="137.95" y1="1079.8" x2="137.95" y2="1083.3" stroke="#2e2e2e" stroke-width="1.4" stroke-linecap="butt"/>
<line x1="98.1" y1="1018.9" x2="177.8" y2="1018.9" stroke="#000" stroke-width="1.9" stroke-linecap="butt" stroke-dasharray="9.2 9.3"/>
<rect x="98.1" y="769.2" width="79.7" height="310.6" fill="none" stroke="#2e2e2e" stroke-width="1.4"/>
<line x1="180.9" y1="1065.98" x2="260.8" y2="1065.98" stroke="#ebebeb" stroke-width="1.1" stroke-linecap="butt"/>
<line x1="180.9" y1="1042.44" x2="260.8" y2="1042.44" stroke="#ebebeb" stroke-width="0.6" stroke-linecap="butt"/>
<line x1="180.9" y1="1018.9" x2="260.8" y2="1018.9" stroke="#ebebeb" stroke-width="1.1" stroke-linecap="butt"/>
<line x1="180.9" y1="995.36" x2="260.8" y2="995.36" stroke="#ebebeb" stroke-width="0.6" stroke-linecap="butt"/>
<line x1="180.9" y1="971.82" x2="260.8" y2="971.82" stroke="#ebebeb" stroke-width="1.1" stroke-linecap="butt"/>
<line x1="180.9" y1="948.28" x2="260.8" y2="948.28" stroke="#ebebeb" stroke-width="0.6" stroke-linecap="butt"/>
<line x1="180.9" y1="924.74" x2="260.8" y2="924.74" stroke="#ebebeb" stroke-width="1.1" stroke-linecap="butt"/>
<line x1="180.9" y1="901.2" x2="260.8" y2="901.2" stroke="#ebebeb" stroke-width="0.6" stroke-linecap="butt"/>
<line x1="180.9" y1="877.66" x2="260.8" y2="877.66" stroke="#ebebeb" stroke-width="1.1" stroke-linecap="butt"/>
<line x1="180.9" y1="854.12" x2="260.8" y2="854.12" stroke="#ebebeb" stroke-width="0.6" stroke-linecap="butt"/>
<line x1="180.9" y1="830.58" x2="260.8" y2="830.58" stroke="#ebebeb" stroke-width="1.1" stroke-linecap="butt"/>
<line x1="180.9" y1="807.04" x2="260.8" y2="807.04" stroke="#ebebeb" stroke-width="0.6" stroke-linecap="butt"/>
<line x1="180.9" y1="783.5" x2="260.8" y2="783.5" stroke="#ebebeb" stroke-width="1.1" stroke-linecap="butt"/>
<line x1="202.69" y1="769.2" x2="202.69" y2="1079.8" stroke="#ebebeb" stroke-width="1.1" stroke-linecap="butt"/>
<line x1="202.69" y1="1079.8" x2="202.69" y2="1083.3" stroke="#2e2e2e" stroke-width="1.4" stroke-linecap="butt"/>
<line x1="239.01" y1="769.2" x2="239.01" y2="1079.8" stroke="#ebebeb" stroke-width="1.1" stroke-linecap="butt"/>
<line x1="239.01" y1="1079.8" x2="239.01" y2="1083.3" stroke="#2e2e2e" stroke-width="1.4" stroke-linecap="butt"/>
<line x1="180.9" y1="1018.9" x2="260.8" y2="1018.9" stroke="#000" stroke-width="1.9" stroke-linecap="butt" stroke-dasharray="9.2 9.3"/>
<rect x="180.9" y="769.2" width="79.9" height="310.6" fill="none" stroke="#2e2e2e" stroke-width="1.4"/>
<line x1="264.5" y1="1065.98" x2="343.2" y2="1065.98" stroke="#ebebeb" stroke-width="1.1" stroke-linecap="butt"/>
<line x1="264.5" y1="1042.44" x2="343.2" y2="1042.44" stroke="#ebebeb" stroke-width="0.6" stroke-linecap="butt"/>
<line x1="264.5" y1="1018.9" x2="343.2" y2="1018.9" stroke="#ebebeb" stroke-width="1.1" stroke-linecap="butt"/>
<line x1="264.5" y1="995.36" x2="343.2" y2="995.36" stroke="#ebebeb" stroke-width="0.6" stroke-linecap="butt"/>
<line x1="264.5" y1="971.82" x2="343.2" y2="971.82" stroke="#ebebeb" stroke-width="1.1" stroke-linecap="butt"/>
<line x1="264.5" y1="948.28" x2="343.2" y2="948.28" stroke="#ebebeb" stroke-width="0.6" stroke-linecap="butt"/>
<line x1="264.5" y1="924.74" x2="343.2" y2="924.74" stroke="#ebebeb" stroke-width="1.1" stroke-linecap="butt"/>
<line x1="264.5" y1="901.2" x2="343.2" y2="901.2" stroke="#ebebeb" stroke-width="0.6" stroke-linecap="butt"/>
<line x1="264.5" y1="877.66" x2="343.2" y2="877.66" stroke="#ebebeb" stroke-width="1.1" stroke-linecap="butt"/>
<line x1="264.5" y1="854.12" x2="343.2" y2="854.12" stroke="#ebebeb" stroke-width="0.6" stroke-linecap="butt"/>
<line x1="264.5" y1="830.58" x2="343.2" y2="830.58" stroke="#ebebeb" stroke-width="1.1" stroke-linecap="butt"/>
<line x1="264.5" y1="807.04" x2="343.2" y2="807.04" stroke="#ebebeb" stroke-width="0.6" stroke-linecap="butt"/>
<line x1="264.5" y1="783.5" x2="343.2" y2="783.5" stroke="#ebebeb" stroke-width="1.1" stroke-linecap="butt"/>
<line x1="303.85" y1="769.2" x2="303.85" y2="1079.8" stroke="#ebebeb" stroke-width="1.1" stroke-linecap="butt"/>
<line x1="303.85" y1="1079.8" x2="303.85" y2="1083.3" stroke="#2e2e2e" stroke-width="1.4" stroke-linecap="butt"/>
<line x1="264.5" y1="1018.9" x2="343.2" y2="1018.9" stroke="#000" stroke-width="1.9" stroke-linecap="butt" stroke-dasharray="9.2 9.3"/>
<rect x="264.5" y="769.2" width="78.7" height="310.6" fill="none" stroke="#2e2e2e" stroke-width="1.4"/>
<line x1="93.6" y1="1065.98" x2="98.1" y2="1065.98" stroke="#2e2e2e" stroke-width="1.4" stroke-linecap="butt"/>
<text transform="translate(79.8,1072.58) scale(1,1.13)" font-size="13" fill="#4d4d4d" text-anchor="end" >-1 x 10</text>
<text transform="translate(79.5,1068.38) scale(1,1.13)" font-size="9.2" fill="#4d4d4d" text-anchor="start" >6</text>
<line x1="93.6" y1="1018.9" x2="98.1" y2="1018.9" stroke="#2e2e2e" stroke-width="1.4" stroke-linecap="butt"/>
<text transform="translate(87.7,1023.6) scale(1,1.13)" font-size="13" fill="#4d4d4d" text-anchor="end" >0</text>
<line x1="93.6" y1="971.82" x2="98.1" y2="971.82" stroke="#2e2e2e" stroke-width="1.4" stroke-linecap="butt"/>
<text transform="translate(79.8,978.42) scale(1,1.13)" font-size="13" fill="#4d4d4d" text-anchor="end" >1 x 10</text>
<text transform="translate(79.5,974.22) scale(1,1.13)" font-size="9.2" fill="#4d4d4d" text-anchor="start" >6</text>
<line x1="93.6" y1="924.74" x2="98.1" y2="924.74" stroke="#2e2e2e" stroke-width="1.4" stroke-linecap="butt"/>
<text transform="translate(79.8,931.34) scale(1,1.13)" font-size="13" fill="#4d4d4d" text-anchor="end" >2 x 10</text>
<text transform="translate(79.5,927.14) scale(1,1.13)" font-size="9.2" fill="#4d4d4d" text-anchor="start" >6</text>
<line x1="93.6" y1="877.66" x2="98.1" y2="877.66" stroke="#2e2e2e" stroke-width="1.4" stroke-linecap="butt"/>
<text transform="translate(79.8,884.26) scale(1,1.13)" font-size="13" fill="#4d4d4d" text-anchor="end" >3 x 10</text>
<text transform="translate(79.5,880.06) scale(1,1.13)" font-size="9.2" fill="#4d4d4d" text-anchor="start" >6</text>
<line x1="93.6" y1="830.58" x2="98.1" y2="830.58" stroke="#2e2e2e" stroke-width="1.4" stroke-linecap="butt"/>
<text transform="translate(79.8,837.18) scale(1,1.13)" font-size="13" fill="#4d4d4d" text-anchor="end" >4 x 10</text>
<text transform="translate(79.5,832.98) scale(1,1.13)" font-size="9.2" fill="#4d4d4d" text-anchor="start" >6</text>
<line x1="93.6" y1="783.5" x2="98.1" y2="783.5" stroke="#2e2e2e" stroke-width="1.4" stroke-linecap="butt"/>
<text transform="translate(79.8,790.1) scale(1,1.13)" font-size="13" fill="#4d4d4d" text-anchor="end" >5 x 10</text>
<text transform="translate(79.5,785.9) scale(1,1.13)" font-size="9.2" fill="#4d4d4d" text-anchor="start" >6</text>
<text transform="translate(34.3,922.6) rotate(-90)" font-size="13.3" fill="#000" text-anchor="middle">Absolute change in CFU/µl</text>
<text transform="translate(136.8,1097.4) scale(1,1.12)" font-size="12.5" fill="#b40065" text-anchor="middle" font-weight="normal" >MYb11</text>
<text transform="translate(194.4,1097.4) scale(1,1.12)" font-size="12.5" fill="#b40065" text-anchor="middle" font-weight="normal" >MYb11</text>
<text transform="translate(245.8,1097.4) scale(1,1.12)" font-size="12.5" fill="#178c50" text-anchor="middle" font-weight="normal" >MYb71</text>
<text transform="translate(303.3,1097.4) scale(1,1.12)" font-size="12.5" fill="#178c50" text-anchor="middle" font-weight="normal" >MYb71</text>
<text transform="translate(220.85,1110.4) scale(1,1.08)" font-size="13.5" fill="#1a1a1a" text-anchor="middle" font-weight="normal" >Co-culture</text>
<rect x="493.7" y="743.8" width="245.1" height="25.4" fill="#d9d9d9" stroke="#2e2e2e" stroke-width="1.4"/>
<text x="618.25" y="762.4" font-size="17" fill="#1a1a1a" text-anchor="middle" font-weight="normal" textLength="89.2" lengthAdjust="spacing">D-mannitol</text>
<line x1="493.7" y1="1065.98" x2="573.4" y2="1065.98" stroke="#ebebeb" stroke-width="1.1" stroke-linecap="butt"/>
<line x1="493.7" y1="1042.44" x2="573.4" y2="1042.44" stroke="#ebebeb" stroke-width="0.6" stroke-linecap="butt"/>
<line x1="493.7" y1="1018.9" x2="573.4" y2="1018.9" stroke="#ebebeb" stroke-width="1.1" stroke-linecap="butt"/>
<line x1="493.7" y1="995.36" x2="573.4" y2="995.36" stroke="#ebebeb" stroke-width="0.6" stroke-linecap="butt"/>
<line x1="493.7" y1="971.82" x2="573.4" y2="971.82" stroke="#ebebeb" stroke-width="1.1" stroke-linecap="butt"/>
<line x1="493.7" y1="948.28" x2="573.4" y2="948.28" stroke="#ebebeb" stroke-width="0.6" stroke-linecap="butt"/>
<line x1="493.7" y1="924.74" x2="573.4" y2="924.74" stroke="#ebebeb" stroke-width="1.1" stroke-linecap="butt"/>
<line x1="493.7" y1="901.2" x2="573.4" y2="901.2" stroke="#ebebeb" stroke-width="0.6" stroke-linecap="butt"/>
<line x1="493.7" y1="877.66" x2="573.4" y2="877.66" stroke="#ebebeb" stroke-width="1.1" stroke-linecap="butt"/>
<line x1="493.7" y1="854.12" x2="573.4" y2="854.12" stroke="#ebebeb" stroke-width="0.6" stroke-linecap="butt"/>
<line x1="493.7" y1="830.58" x2="573.4" y2="830.58" stroke="#ebebeb" stroke-width="1.1" stroke-linecap="butt"/>
<line x1="493.7" y1="807.04" x2="573.4" y2="807.04" stroke="#ebebeb" stroke-width="0.6" stroke-linecap="butt"/>
<line x1="493.7" y1="783.5" x2="573.4" y2="783.5" stroke="#ebebeb" stroke-width="1.1" stroke-linecap="butt"/>
<line x1="533.55" y1="769.2" x2="533.55" y2="1079.8" stroke="#ebebeb" stroke-width="1.1" stroke-linecap="butt"/>
<line x1="533.55" y1="1079.8" x2="533.55" y2="1083.3" stroke="#2e2e2e" stroke-width="1.4" stroke-linecap="butt"/>
<line x1="493.7" y1="1018.9" x2="573.4" y2="1018.9" stroke="#000" stroke-width="1.9" stroke-linecap="butt" stroke-dasharray="9.2 9.3"/>
<rect x="493.7" y="769.2" width="79.7" height="310.6" fill="none" stroke="#2e2e2e" stroke-width="1.4"/>
<line x1="576.5" y1="1065.98" x2="656.4" y2="1065.98" stroke="#ebebeb" stroke-width="1.1" stroke-linecap="butt"/>
<line x1="576.5" y1="1042.44" x2="656.4" y2="1042.44" stroke="#ebebeb" stroke-width="0.6" stroke-linecap="butt"/>
<line x1="576.5" y1="1018.9" x2="656.4" y2="1018.9" stroke="#ebebeb" stroke-width="1.1" stroke-linecap="butt"/>
<line x1="576.5" y1="995.36" x2="656.4" y2="995.36" stroke="#ebebeb" stroke-width="0.6" stroke-linecap="butt"/>
<line x1="576.5" y1="971.82" x2="656.4" y2="971.82" stroke="#ebebeb" stroke-width="1.1" stroke-linecap="butt"/>
<line x1="576.5" y1="948.28" x2="656.4" y2="948.28" stroke="#ebebeb" stroke-width="0.6" stroke-linecap="butt"/>
<line x1="576.5" y1="924.74" x2="656.4" y2="924.74" stroke="#ebebeb" stroke-width="1.1" stroke-linecap="butt"/>
<line x1="576.5" y1="901.2" x2="656.4" y2="901.2" stroke="#ebebeb" stroke-width="0.6" stroke-linecap="butt"/>
<line x1="576.5" y1="877.66" x2="656.4" y2="877.66" stroke="#ebebeb" stroke-width="1.1" stroke-linecap="butt"/>
<line x1="576.5" y1="854.12" x2="656.4" y2="854.12" stroke="#ebebeb" stroke-width="0.6" stroke-linecap="butt"/>
<line x1="576.5" y1="830.58" x2="656.4" y2="830.58" stroke="#ebebeb" stroke-width="1.1" stroke-linecap="butt"/>
<line x1="576.5" y1="807.04" x2="656.4" y2="807.04" stroke="#ebebeb" stroke-width="0.6" stroke-linecap="butt"/>
<line x1="576.5" y1="783.5" x2="656.4" y2="783.5" stroke="#ebebeb" stroke-width="1.1" stroke-linecap="butt"/>
<line x1="598.29" y1="769.2" x2="598.29" y2="1079.8" stroke="#ebebeb" stroke-width="1.1" stroke-linecap="butt"/>
<line x1="598.29" y1="1079.8" x2="598.29" y2="1083.3" stroke="#2e2e2e" stroke-width="1.4" stroke-linecap="butt"/>
<line x1="634.61" y1="769.2" x2="634.61" y2="1079.8" stroke="#ebebeb" stroke-width="1.1" stroke-linecap="butt"/>
<line x1="634.61" y1="1079.8" x2="634.61" y2="1083.3" stroke="#2e2e2e" stroke-width="1.4" stroke-linecap="butt"/>
<line x1="576.5" y1="1018.9" x2="656.4" y2="1018.9" stroke="#000" stroke-width="1.9" stroke-linecap="butt" stroke-dasharray="9.2 9.3"/>
<rect x="576.5" y="769.2" width="79.9" height="310.6" fill="none" stroke="#2e2e2e" stroke-width="1.4"/>
<line x1="660.1" y1="1065.98" x2="738.8" y2="1065.98" stroke="#ebebeb" stroke-width="1.1" stroke-linecap="butt"/>
<line x1="660.1" y1="1042.44" x2="738.8" y2="1042.44" stroke="#ebebeb" stroke-width="0.6" stroke-linecap="butt"/>
<line x1="660.1" y1="1018.9" x2="738.8" y2="1018.9" stroke="#ebebeb" stroke-width="1.1" stroke-linecap="butt"/>
<line x1="660.1" y1="995.36" x2="738.8" y2="995.36" stroke="#ebebeb" stroke-width="0.6" stroke-linecap="butt"/>
<line x1="660.1" y1="971.82" x2="738.8" y2="971.82" stroke="#ebebeb" stroke-width="1.1" stroke-linecap="butt"/>
<line x1="660.1" y1="948.28" x2="738.8" y2="948.28" stroke="#ebebeb" stroke-width="0.6" stroke-linecap="butt"/>
<line x1="660.1" y1="924.74" x2="738.8" y2="924.74" stroke="#ebebeb" stroke-width="1.1" stroke-linecap="butt"/>
<line x1="660.1" y1="901.2" x2="738.8" y2="901.2" stroke="#ebebeb" stroke-width="0.6" stroke-linecap="butt"/>
<line x1="660.1" y1="877.66" x2="738.8" y2="877.66" stroke="#ebebeb" stroke-width="1.1" stroke-linecap="butt"/>
<line x1="660.1" y1="854.12" x2="738.8" y2="854.12" stroke="#ebebeb" stroke-width="0.6" stroke-linecap="butt"/>
<line x1="660.1" y1="830.58" x2="738.8" y2="830.58" stroke="#ebebeb" stroke-width="1.1" stroke-linecap="butt"/>
<line x1="660.1" y1="807.04" x2="738.8" y2="807.04" stroke="#ebebeb" stroke-width="0.6" stroke-linecap="butt"/>
<line x1="660.1" y1="783.5" x2="738.8" y2="783.5" stroke="#ebebeb" stroke-width="1.1" stroke-linecap="butt"/>
<line x1="699.45" y1="769.2" x2="699.45" y2="1079.8" stroke="#ebebeb" stroke-width="1.1" stroke-linecap="butt"/>
<line x1="699.45" y1="1079.8" x2="699.45" y2="1083.3" stroke="#2e2e2e" stroke-width="1.4" stroke-linecap="butt"/>
<line x1="660.1" y1="1018.9" x2="738.8" y2="1018.9" stroke="#000" stroke-width="1.9" stroke-linecap="butt" stroke-dasharray="9.2 9.3"/>
<rect x="660.1" y="769.2" width="78.7" height="310.6" fill="none" stroke="#2e2e2e" stroke-width="1.4"/>
<line x1="489.2" y1="1065.98" x2="493.7" y2="1065.98" stroke="#2e2e2e" stroke-width="1.4" stroke-linecap="butt"/>
<text transform="translate(475.4,1072.58) scale(1,1.13)" font-size="13" fill="#4d4d4d" text-anchor="end" >-1 x 10</text>
<text transform="translate(475.1,1068.38) scale(1,1.13)" font-size="9.2" fill="#4d4d4d" text-anchor="start" >6</text>
<line x1="489.2" y1="1018.9" x2="493.7" y2="1018.9" stroke="#2e2e2e" stroke-width="1.4" stroke-linecap="butt"/>
<text transform="translate(483.3,1023.6) scale(1,1.13)" font-size="13" fill="#4d4d4d" text-anchor="end" >0</text>
<line x1="489.2" y1="971.82" x2="493.7" y2="971.82" stroke="#2e2e2e" stroke-width="1.4" stroke-linecap="butt"/>
<text transform="translate(475.4,978.42) scale(1,1.13)" font-size="13" fill="#4d4d4d" text-anchor="end" >1 x 10</text>
<text transform="translate(475.1,974.22) scale(1,1.13)" font-size="9.2" fill="#4d4d4d" text-anchor="start" >6</text>
<line x1="489.2" y1="924.74" x2="493.7" y2="924.74" stroke="#2e2e2e" stroke-width="1.4" stroke-linecap="butt"/>
<text transform="translate(475.4,931.34) scale(1,1.13)" font-size="13" fill="#4d4d4d" text-anchor="end" >2 x 10</text>
<text transform="translate(475.1,927.14) scale(1,1.13)" font-size="9.2" fill="#4d4d4d" text-anchor="start" >6</text>
<line x1="489.2" y1="877.66" x2="493.7" y2="877.66" stroke="#2e2e2e" stroke-width="1.4" stroke-linecap="butt"/>
<text transform="translate(475.4,884.26) scale(1,1.13)" font-size="13" fill="#4d4d4d" text-anchor="end" >3 x 10</text>
<text transform="translate(475.1,880.06) scale(1,1.13)" font-size="9.2" fill="#4d4d4d" text-anchor="start" >6</text>
<line x1="489.2" y1="830.58" x2="493.7" y2="830.58" stroke="#2e2e2e" stroke-width="1.4" stroke-linecap="butt"/>
<text transform="translate(475.4,837.18) scale(1,1.13)" font-size="13" fill="#4d4d4d" text-anchor="end" >4 x 10</text>
<text transform="translate(475.1,832.98) scale(1,1.13)" font-size="9.2" fill="#4d4d4d" text-anchor="start" >6</text>
<line x1="489.2" y1="783.5" x2="493.7" y2="783.5" stroke="#2e2e2e" stroke-width="1.4" stroke-linecap="butt"/>
<text transform="translate(475.4,790.1) scale(1,1.13)" font-size="13" fill="#4d4d4d" text-anchor="end" >5 x 10</text>
<text transform="translate(475.1,785.9) scale(1,1.13)" font-size="9.2" fill="#4d4d4d" text-anchor="start" >6</text>
<text transform="translate(429.9,922.6) rotate(-90)" font-size="13.3" fill="#000" text-anchor="middle">Absolute change in CFU/µl</text>
<text transform="translate(532.4,1097.4) scale(1,1.12)" font-size="12.5" fill="#b40065" text-anchor="middle" font-weight="normal" >MYb11</text>
<text transform="translate(590,1097.4) scale(1,1.12)" font-size="12.5" fill="#b40065" text-anchor="middle" font-weight="normal" >MYb11</text>
<text transform="translate(641.4,1097.4) scale(1,1.12)" font-size="12.5" fill="#178c50" text-anchor="middle" font-weight="normal" >MYb71</text>
<text transform="translate(698.9,1097.4) scale(1,1.12)" font-size="12.5" fill="#178c50" text-anchor="middle" font-weight="normal" >MYb71</text>
<text transform="translate(616.45,1110.4) scale(1,1.08)" font-size="13.5" fill="#1a1a1a" text-anchor="middle" font-weight="normal" >Co-culture</text>
<text x="-1" y="364.6" font-size="20" fill="#000" text-anchor="start" font-weight="bold" >B</text>
<text x="384" y="364.6" font-size="24" fill="#000" text-anchor="start" font-weight="bold" >C</text>
<text x="-1.5" y="743.5" font-size="24" fill="#000" text-anchor="start" font-weight="bold" >D</text>
<text x="383.5" y="743.5" font-size="24" fill="#000" text-anchor="start" font-weight="bold" >E</text>
<line x1="137.95" y1="499.4" x2="137.95" y2="546.5" stroke="#b40065" stroke-width="1.2" stroke-linecap="butt"/>
<line x1="137.95" y1="598.7" x2="137.95" y2="627.5" stroke="#b40065" stroke-width="1.2" stroke-linecap="butt"/>
<rect x="114.5" y="546.5" width="46.8" height="52.2" fill="#ffffff" stroke="#b40065" stroke-width="1.2"/>
<line x1="114.5" y1="586.8" x2="161.3" y2="586.8" stroke="#b40065" stroke-width="2.4" stroke-linecap="butt"/>
<circle cx="133.5" cy="499.4" r="2.1" fill="#a50c63"/>
<circle cx="134" cy="513.1" r="2.1" fill="#a50c63"/>
<circle cx="144" cy="539.7" r="2.1" fill="#a50c63"/>
<circle cx="136.6" cy="546.5" r="2.1" fill="#a50c63"/>
<circle cx="140.4" cy="546.5" r="2.1" fill="#a50c63"/>
<circle cx="130.8" cy="580" r="2.1" fill="#a50c63"/>
<circle cx="131.4" cy="586.8" r="2.1" fill="#a50c63"/>
<circle cx="134.7" cy="586.8" r="2.1" fill="#a50c63"/>
<circle cx="141.9" cy="586.8" r="2.1" fill="#a50c63"/>
<circle cx="138.3" cy="593.7" r="2.1" fill="#a50c63"/>
<circle cx="130.8" cy="600.1" r="2.1" fill="#a50c63"/>
<circle cx="142.3" cy="606.9" r="2.1" fill="#a50c63"/>
<circle cx="143.8" cy="620.6" r="2.1" fill="#a50c63"/>
<circle cx="128.9" cy="627" r="2.1" fill="#a50c63"/>
<line x1="202.7" y1="440.5" x2="202.7" y2="515.8" stroke="#b40065" stroke-width="1.2" stroke-linecap="butt"/>
<line x1="202.7" y1="583.2" x2="202.7" y2="615.7" stroke="#b40065" stroke-width="1.2" stroke-linecap="butt"/>
<rect x="190.3" y="515.8" width="25.3" height="67.4" fill="#ffffff" stroke="#b40065" stroke-width="1.2"/>
<line x1="190.3" y1="541.1" x2="215.6" y2="541.1" stroke="#b40065" stroke-width="2.4" stroke-linecap="butt"/>
<circle cx="209.1" cy="440.5" r="2.1" fill="#a50c63"/>
<circle cx="201.5" cy="494.2" r="2.1" fill="#a50c63"/>
<circle cx="208" cy="494.2" r="2.1" fill="#a50c63"/>
<circle cx="202.6" cy="514.5" r="2.1" fill="#a50c63"/>
<circle cx="206.3" cy="521.2" r="2.1" fill="#a50c63"/>
<circle cx="209.1" cy="521.2" r="2.1" fill="#a50c63"/>
<circle cx="200.5" cy="541.1" r="2.1" fill="#a50c63"/>
<circle cx="209.1" cy="541.1" r="2.1" fill="#a50c63"/>
<circle cx="198.7" cy="554.7" r="2.1" fill="#a50c63"/>
<circle cx="204.8" cy="568.1" r="2.1" fill="#a50c63"/>
<circle cx="209.1" cy="588.2" r="2.1" fill="#a50c63"/>
<circle cx="204.8" cy="602.3" r="2.1" fill="#a50c63"/>
<circle cx="197.6" cy="608.8" r="2.1" fill="#a50c63"/>
<circle cx="201.1" cy="615.2" r="2.1" fill="#a50c63"/>
<line x1="239.1" y1="602.3" x2="239.1" y2="616.1" stroke="#178c50" stroke-width="1.2" stroke-linecap="butt"/>
<line x1="239.1" y1="632.5" x2="239.1" y2="649.2" stroke="#178c50" stroke-width="1.2" stroke-linecap="butt"/>
<rect x="226.4" y="616.1" width="25.5" height="16.4" fill="#ffffff" stroke="#178c50" stroke-width="1.2"/>
<line x1="226.4" y1="618.5" x2="251.9" y2="618.5" stroke="#178c50" stroke-width="2.4" stroke-linecap="butt"/>
<circle cx="236.6" cy="602.3" r="2.1" fill="#177a45"/>
<circle cx="243.7" cy="602.3" r="2.1" fill="#177a45"/>
<circle cx="234" cy="616.8" r="2.1" fill="#177a45"/>
<circle cx="239.4" cy="616.8" r="2.1" fill="#177a45"/>
<circle cx="244.8" cy="616.8" r="2.1" fill="#177a45"/>
<circle cx="236.1" cy="618.5" r="2.1" fill="#177a45"/>
<circle cx="239.4" cy="622.8" r="2.1" fill="#177a45"/>
<circle cx="244.8" cy="622.8" r="2.1" fill="#177a45"/>
<circle cx="245.2" cy="636.2" r="2.1" fill="#177a45"/>
<circle cx="242.6" cy="642.7" r="2.1" fill="#177a45"/>
<circle cx="232.2" cy="649.8" r="2.1" fill="#177a45"/>
<line x1="303.85" y1="546.7" x2="303.85" y2="565.1" stroke="#178c50" stroke-width="1.2" stroke-linecap="butt"/>
<line x1="303.85" y1="612.1" x2="303.85" y2="634.5" stroke="#178c50" stroke-width="1.2" stroke-linecap="butt"/>
<rect x="280.8" y="565.1" width="46.6" height="47" fill="#ffffff" stroke="#178c50" stroke-width="1.2"/>
<line x1="280.8" y1="586.9" x2="327.4" y2="586.9" stroke="#178c50" stroke-width="2.4" stroke-linecap="butt"/>
<circle cx="290.7" cy="546.7" r="2.1" fill="#177a45"/>
<circle cx="302.6" cy="546.7" r="2.1" fill="#177a45"/>
<circle cx="306.2" cy="560.2" r="2.1" fill="#177a45"/>
<circle cx="308.6" cy="566.7" r="2.1" fill="#177a45"/>
<circle cx="310.9" cy="580.4" r="2.1" fill="#177a45"/>
<circle cx="304.6" cy="586.9" r="2.1" fill="#177a45"/>
<circle cx="315.9" cy="586.9" r="2.1" fill="#177a45"/>
<circle cx="307" cy="600.2" r="2.1" fill="#177a45"/>
<circle cx="301.6" cy="606.7" r="2.1" fill="#177a45"/>
<circle cx="301.6" cy="627.1" r="2.1" fill="#177a45"/>
<circle cx="301" cy="633.9" r="2.1" fill="#177a45"/>
<circle cx="291.7" cy="687.9" r="2.1" fill="#177a45"/>
<line x1="533.55" y1="574" x2="533.55" y2="580.5" stroke="#b40065" stroke-width="1.2" stroke-linecap="butt"/>
<line x1="533.55" y1="613.6" x2="533.55" y2="647.6" stroke="#b40065" stroke-width="1.2" stroke-linecap="butt"/>
<rect x="510.3" y="580.5" width="46.1" height="33.1" fill="#ffffff" stroke="#b40065" stroke-width="1.2"/>
<line x1="510.3" y1="594" x2="556.4" y2="594" stroke="#b40065" stroke-width="2.4" stroke-linecap="butt"/>
<circle cx="535.2" cy="452.3" r="2.1" fill="#a50c63"/>
<circle cx="544.9" cy="573.6" r="2.1" fill="#a50c63"/>
<circle cx="530.2" cy="580.5" r="2.1" fill="#a50c63"/>
<circle cx="543.8" cy="580.5" r="2.1" fill="#a50c63"/>
<circle cx="545.5" cy="580.5" r="2.1" fill="#a50c63"/>
<circle cx="537.3" cy="587" r="2.1" fill="#a50c63"/>
<circle cx="531.5" cy="594" r="2.1" fill="#a50c63"/>
<circle cx="544.9" cy="594" r="2.1" fill="#a50c63"/>
<circle cx="525.4" cy="607.1" r="2.1" fill="#a50c63"/>
<circle cx="542.3" cy="614.1" r="2.1" fill="#a50c63"/>
<circle cx="522.2" cy="634" r="2.1" fill="#a50c63"/>
<circle cx="540.6" cy="648" r="2.1" fill="#a50c63"/>
<circle cx="521.8" cy="667.7" r="2.1" fill="#a50c63"/>
<line x1="598.3" y1="540.1" x2="598.3" y2="581.9" stroke="#b40065" stroke-width="1.2" stroke-linecap="butt"/>
<line x1="598.3" y1="634.4" x2="598.3" y2="680.9" stroke="#b40065" stroke-width="1.2" stroke-linecap="butt"/>
<rect x="585.6" y="581.9" width="25.7" height="52.5" fill="#ffffff" stroke="#b40065" stroke-width="1.2"/>
<line x1="585.6" y1="620.3" x2="611.3" y2="620.3" stroke="#b40065" stroke-width="2.4" stroke-linecap="butt"/>
<circle cx="601.9" cy="539.9" r="2.1" fill="#a50c63"/>
<circle cx="600.7" cy="546.6" r="2.1" fill="#a50c63"/>
<circle cx="591.1" cy="580.1" r="2.1" fill="#a50c63"/>
<circle cx="601.2" cy="580.1" r="2.1" fill="#a50c63"/>
<circle cx="604.3" cy="586.9" r="2.1" fill="#a50c63"/>
<circle cx="591.8" cy="607" r="2.1" fill="#a50c63"/>
<circle cx="597.6" cy="620.3" r="2.1" fill="#a50c63"/>
<circle cx="601.9" cy="620.3" r="2.1" fill="#a50c63"/>
<circle cx="604.1" cy="627.2" r="2.1" fill="#a50c63"/>
<circle cx="596.9" cy="634.4" r="2.1" fill="#a50c63"/>
<circle cx="602.3" cy="634.4" r="2.1" fill="#a50c63"/>
<circle cx="604.8" cy="640.9" r="2.1" fill="#a50c63"/>
<circle cx="601" cy="661" r="2.1" fill="#a50c63"/>
<circle cx="604.5" cy="681.2" r="2.1" fill="#a50c63"/>
<line x1="634.7" y1="620.7" x2="634.7" y2="629.1" stroke="#178c50" stroke-width="1.2" stroke-linecap="butt"/>
<line x1="634.7" y1="654.2" x2="634.7" y2="662" stroke="#178c50" stroke-width="1.2" stroke-linecap="butt"/>
<rect x="621.8" y="629.1" width="25.4" height="25.1" fill="#ffffff" stroke="#178c50" stroke-width="1.2"/>
<line x1="621.8" y1="647.3" x2="647.2" y2="647.3" stroke="#178c50" stroke-width="2.4" stroke-linecap="butt"/>
<circle cx="631.4" cy="580.1" r="2.1" fill="#177a45"/>
<circle cx="639.3" cy="573.7" r="2.1" fill="#177a45"/>
<circle cx="632.5" cy="620.7" r="2.1" fill="#177a45"/>
<circle cx="635" cy="627.2" r="2.1" fill="#177a45"/>
<circle cx="635" cy="634.1" r="2.1" fill="#177a45"/>
<circle cx="634.3" cy="640.6" r="2.1" fill="#177a45"/>
<circle cx="639.7" cy="640.6" r="2.1" fill="#177a45"/>
<circle cx="627.8" cy="654.2" r="2.1" fill="#177a45"/>
<circle cx="631.4" cy="654.2" r="2.1" fill="#177a45"/>
<circle cx="637.2" cy="654.2" r="2.1" fill="#177a45"/>
<circle cx="628.2" cy="661" r="2.1" fill="#177a45"/>
<circle cx="632.5" cy="661" r="2.1" fill="#177a45"/>
<line x1="699.45" y1="543.7" x2="699.45" y2="550.1" stroke="#178c50" stroke-width="1.2" stroke-linecap="butt"/>
<line x1="699.45" y1="583.3" x2="699.45" y2="590.5" stroke="#178c50" stroke-width="1.2" stroke-linecap="butt"/>
<rect x="676.2" y="550.1" width="46.3" height="33.2" fill="#ffffff" stroke="#178c50" stroke-width="1.2"/>
<line x1="676.2" y1="556.9" x2="722.5" y2="556.9" stroke="#178c50" stroke-width="2.4" stroke-linecap="butt"/>
<circle cx="688.9" cy="543.1" r="2.1" fill="#177a45"/>
<circle cx="703.1" cy="550.1" r="2.1" fill="#177a45"/>
<circle cx="696.7" cy="556.9" r="2.1" fill="#177a45"/>
<circle cx="690.5" cy="583.5" r="2.1" fill="#177a45"/>
<circle cx="691.1" cy="590.5" r="2.1" fill="#177a45"/>
<line x1="137.95" y1="891.4" x2="137.95" y2="939.9" stroke="#b40065" stroke-width="1.2" stroke-linecap="butt"/>
<line x1="137.95" y1="995.3" x2="137.95" y2="998" stroke="#b40065" stroke-width="1.2" stroke-linecap="butt"/>
<rect x="114.5" y="939.9" width="46.8" height="55.4" fill="#ffffff" stroke="#b40065" stroke-width="1.2"/>
<line x1="114.5" y1="975.1" x2="161.3" y2="975.1" stroke="#b40065" stroke-width="2.4" stroke-linecap="butt"/>
<circle cx="148.6" cy="891.4" r="2.1" fill="#a50c63"/>
<circle cx="127.2" cy="918.3" r="2.1" fill="#a50c63"/>
<circle cx="145.5" cy="931.7" r="2.1" fill="#a50c63"/>
<circle cx="147.9" cy="938.4" r="2.1" fill="#a50c63"/>
<circle cx="136.8" cy="944.9" r="2.1" fill="#a50c63"/>
<circle cx="139.7" cy="958.6" r="2.1" fill="#a50c63"/>
<circle cx="144" cy="971.5" r="2.1" fill="#a50c63"/>
<circle cx="129.4" cy="978.7" r="2.1" fill="#a50c63"/>
<circle cx="128.6" cy="985.2" r="2.1" fill="#a50c63"/>
<circle cx="130.8" cy="985.2" r="2.1" fill="#a50c63"/>
<circle cx="130.8" cy="998.8" r="2.1" fill="#a50c63"/>
<circle cx="145.5" cy="998.8" r="2.1" fill="#a50c63"/>
<circle cx="148.4" cy="998.8" r="2.1" fill="#a50c63"/>
<line x1="202.7" y1="952.1" x2="202.7" y2="987.4" stroke="#b40065" stroke-width="1.2" stroke-linecap="butt"/>
<line x1="202.7" y1="1044.1" x2="202.7" y2="1058.8" stroke="#b40065" stroke-width="1.2" stroke-linecap="butt"/>
<rect x="190.1" y="987.4" width="25.5" height="56.7" fill="#ffffff" stroke="#b40065" stroke-width="1.2"/>
<line x1="190.1" y1="1025.8" x2="215.6" y2="1025.8" stroke="#b40065" stroke-width="2.4" stroke-linecap="butt"/>
<circle cx="205.6" cy="952.1" r="2.1" fill="#a50c63"/>
<circle cx="208.5" cy="971.6" r="2.1" fill="#a50c63"/>
<circle cx="196.7" cy="978.6" r="2.1" fill="#a50c63"/>
<circle cx="203.7" cy="1012.3" r="2.1" fill="#a50c63"/>
<circle cx="206.8" cy="1012.3" r="2.1" fill="#a50c63"/>
<circle cx="204.9" cy="1025.8" r="2.1" fill="#a50c63"/>
<circle cx="198.6" cy="1039" r="2.1" fill="#a50c63"/>
<circle cx="201.8" cy="1039" r="2.1" fill="#a50c63"/>
<circle cx="201.5" cy="1045.8" r="2.1" fill="#a50c63"/>
<circle cx="209" cy="1045.8" r="2.1" fill="#a50c63"/>
<circle cx="197.1" cy="1052.6" r="2.1" fill="#a50c63"/>
<circle cx="207.9" cy="1059.8" r="2.1" fill="#a50c63"/>
<line x1="239.1" y1="1048.5" x2="239.1" y2="1052.3" stroke="#178c50" stroke-width="1.2" stroke-linecap="butt"/>
<line x1="239.1" y1="1056" x2="239.1" y2="1058" stroke="#178c50" stroke-width="1.2" stroke-linecap="butt"/>
<rect x="226.2" y="1052.3" width="25.8" height="3.7" fill="#ffffff" stroke="#178c50" stroke-width="1.2"/>
<line x1="226.2" y1="1054" x2="252" y2="1054" stroke="#178c50" stroke-width="2.4" stroke-linecap="butt"/>
<circle cx="239.1" cy="1045.8" r="2.1" fill="#177a45"/>
<circle cx="232.5" cy="1053" r="2.1" fill="#177a45"/>
<circle cx="236" cy="1052" r="2.1" fill="#177a45"/>
<circle cx="239" cy="1054" r="2.1" fill="#177a45"/>
<circle cx="242" cy="1056" r="2.1" fill="#177a45"/>
<circle cx="245" cy="1054" r="2.1" fill="#177a45"/>
<circle cx="234" cy="1056" r="2.1" fill="#177a45"/>
<circle cx="240" cy="1057" r="2.1" fill="#177a45"/>
<line x1="303.85" y1="924.9" x2="303.85" y2="958.4" stroke="#178c50" stroke-width="1.2" stroke-linecap="butt"/>
<line x1="303.85" y1="1039.3" x2="303.85" y2="1045.7" stroke="#178c50" stroke-width="1.2" stroke-linecap="butt"/>
<rect x="280.5" y="958.4" width="46.8" height="80.9" fill="#ffffff" stroke="#178c50" stroke-width="1.2"/>
<line x1="280.5" y1="1019" x2="327.3" y2="1019" stroke="#178c50" stroke-width="2.4" stroke-linecap="butt"/>
<circle cx="305.3" cy="924.9" r="2.1" fill="#177a45"/>
<circle cx="295.2" cy="945" r="2.1" fill="#177a45"/>
<circle cx="314.1" cy="951.7" r="2.1" fill="#177a45"/>
<circle cx="306.9" cy="958.4" r="2.1" fill="#177a45"/>
<circle cx="299.5" cy="1019.2" r="2.1" fill="#177a45"/>
<circle cx="313.7" cy="1019.2" r="2.1" fill="#177a45"/>
<circle cx="298.7" cy="1032.3" r="2.1" fill="#177a45"/>
<circle cx="310.1" cy="1032.3" r="2.1" fill="#177a45"/>
<circle cx="296.5" cy="1039.3" r="2.1" fill="#177a45"/>
<circle cx="314.6" cy="1039.3" r="2.1" fill="#177a45"/>
<circle cx="316.7" cy="1039.3" r="2.1" fill="#177a45"/>
<circle cx="296.5" cy="1046.1" r="2.1" fill="#177a45"/>
<line x1="533.55" y1="921.8" x2="533.55" y2="967.1" stroke="#b40065" stroke-width="1.2" stroke-linecap="butt"/>
<line x1="533.55" y1="1032.2" x2="533.55" y2="1055.7" stroke="#b40065" stroke-width="1.2" stroke-linecap="butt"/>
<rect x="510.5" y="967.1" width="45.7" height="65.1" fill="#ffffff" stroke="#b40065" stroke-width="1.2"/>
<line x1="510.5" y1="999" x2="556.2" y2="999" stroke="#b40065" stroke-width="2.4" stroke-linecap="butt"/>
<circle cx="530.2" cy="921.8" r="2.1" fill="#a50c63"/>
<circle cx="541.3" cy="935.1" r="2.1" fill="#a50c63"/>
<circle cx="524.9" cy="941.5" r="2.1" fill="#a50c63"/>
<circle cx="542.4" cy="975.2" r="2.1" fill="#a50c63"/>
<circle cx="525.9" cy="982" r="2.1" fill="#a50c63"/>
<circle cx="546.1" cy="995.5" r="2.1" fill="#a50c63"/>
<circle cx="544" cy="1002.3" r="2.1" fill="#a50c63"/>
<circle cx="520.5" cy="1008.7" r="2.1" fill="#a50c63"/>
<circle cx="523" cy="1029" r="2.1" fill="#a50c63"/>
<circle cx="539.2" cy="1042.4" r="2.1" fill="#a50c63"/>
<circle cx="545.6" cy="1042.4" r="2.1" fill="#a50c63"/>
<circle cx="540.8" cy="1055.7" r="2.1" fill="#a50c63"/>
<line x1="598.3" y1="958.9" x2="598.3" y2="992" stroke="#b40065" stroke-width="1.2" stroke-linecap="butt"/>
<line x1="598.3" y1="1065.9" x2="598.3" y2="1065.9" stroke="#b40065" stroke-width="1.2" stroke-linecap="butt"/>
<rect x="585.4" y="992" width="25.9" height="73.9" fill="#ffffff" stroke="#b40065" stroke-width="1.2"/>
<line x1="585.4" y1="1019.1" x2="611.3" y2="1019.1" stroke="#b40065" stroke-width="2.4" stroke-linecap="butt"/>
<circle cx="594" cy="958.6" r="2.1" fill="#a50c63"/>
<circle cx="604.7" cy="958.6" r="2.1" fill="#a50c63"/>
<circle cx="594.6" cy="985.3" r="2.1" fill="#a50c63"/>
<circle cx="597.4" cy="991.6" r="2.1" fill="#a50c63"/>
<circle cx="605" cy="991.6" r="2.1" fill="#a50c63"/>
<circle cx="601.2" cy="998.6" r="2.1" fill="#a50c63"/>
<circle cx="601.2" cy="1019.1" r="2.1" fill="#a50c63"/>
<circle cx="598" cy="1026" r="2.1" fill="#a50c63"/>
<circle cx="601.6" cy="1026" r="2.1" fill="#a50c63"/>
<circle cx="595.5" cy="1065.9" r="2.1" fill="#a50c63"/>
<circle cx="599.3" cy="1065.9" r="2.1" fill="#a50c63"/>
<circle cx="605" cy="1065.9" r="2.1" fill="#a50c63"/>
<line x1="634.7" y1="1040.8" x2="634.7" y2="1043.5" stroke="#178c50" stroke-width="1.2" stroke-linecap="butt"/>
<line x1="634.7" y1="1050.2" x2="634.7" y2="1052.1" stroke="#178c50" stroke-width="1.2" stroke-linecap="butt"/>
<rect x="621.3" y="1043.5" width="26.2" height="6.7" fill="#ffffff" stroke="#178c50" stroke-width="1.2"/>
<line x1="621.3" y1="1046.8" x2="647.5" y2="1046.8" stroke="#178c50" stroke-width="2.4" stroke-linecap="butt"/>
<circle cx="637.5" cy="1038.9" r="2.1" fill="#177a45"/>
<circle cx="631.4" cy="1040.8" r="2.1" fill="#177a45"/>
<circle cx="641.5" cy="1042" r="2.1" fill="#177a45"/>
<circle cx="628.3" cy="1043.9" r="2.1" fill="#177a45"/>
<circle cx="633.3" cy="1047" r="2.1" fill="#177a45"/>
<circle cx="628.9" cy="1049.6" r="2.1" fill="#177a45"/>
<circle cx="632.7" cy="1052.1" r="2.1" fill="#177a45"/>
<circle cx="637.7" cy="1049.6" r="2.1" fill="#177a45"/>
<circle cx="639" cy="1043.9" r="2.1" fill="#177a45"/>
<line x1="699.45" y1="905" x2="699.45" y2="953.3" stroke="#178c50" stroke-width="1.2" stroke-linecap="butt"/>
<line x1="699.45" y1="1039.8" x2="699.45" y2="1059.8" stroke="#178c50" stroke-width="1.2" stroke-linecap="butt"/>
<rect x="676.5" y="953.3" width="45.9" height="86.5" fill="#ffffff" stroke="#178c50" stroke-width="1.2"/>
<line x1="676.5" y1="1021.3" x2="722.4" y2="1021.3" stroke="#178c50" stroke-width="2.4" stroke-linecap="butt"/>
<circle cx="695.9" cy="904.7" r="2.1" fill="#177a45"/>
<circle cx="706.2" cy="918" r="2.1" fill="#177a45"/>
<circle cx="695.6" cy="938.4" r="2.1" fill="#177a45"/>
<circle cx="705.5" cy="958.6" r="2.1" fill="#177a45"/>
<circle cx="711.6" cy="985.6" r="2.1" fill="#177a45"/>
<circle cx="711.8" cy="1017.1" r="2.1" fill="#177a45"/>
<circle cx="694.7" cy="1025.9" r="2.1" fill="#177a45"/>
<circle cx="702.3" cy="1036.7" r="2.1" fill="#177a45"/>
<circle cx="698.3" cy="1039.4" r="2.1" fill="#177a45"/>
<circle cx="687.5" cy="1042.1" r="2.1" fill="#177a45"/>
<circle cx="691" cy="1052.8" r="2.1" fill="#177a45"/>
<circle cx="692.9" cy="1060.4" r="2.1" fill="#177a45"/>
<line x1="188" y1="409.6" x2="253.6" y2="409.6" stroke="#999999" stroke-width="2.1" stroke-linecap="butt"/>
<text x="220.4" y="414.8" font-size="27.5" fill="#999999" text-anchor="middle">***</text>
<line x1="583.6" y1="409.3" x2="649.2" y2="409.3" stroke="#999999" stroke-width="2.1" stroke-linecap="butt"/>
<text x="616" y="414.5" font-size="27.5" fill="#999999" text-anchor="middle">***</text>
<line x1="188" y1="788" x2="253.6" y2="788" stroke="#999999" stroke-width="2.1" stroke-linecap="butt"/>
<text x="220.4" y="793.2" font-size="27.5" fill="#999999" text-anchor="middle">***</text>
<line x1="583.6" y1="791" x2="649.2" y2="791" stroke="#999999" stroke-width="2.1" stroke-linecap="butt"/>
<text x="616" y="796.2" font-size="27.5" fill="#999999" text-anchor="middle">***</text>
<text x="137.5" y="433.7" font-size="27.5" fill="#000" text-anchor="middle">**</text>
<text x="533.1" y="433.7" font-size="27.5" fill="#000" text-anchor="middle">**</text>
<text x="699.5" y="435" font-size="27.5" fill="#000" text-anchor="middle">*</text>
<text x="137.35" y="813.65" font-size="27.5" fill="#000" text-anchor="middle">***</text>
<text x="303.55" y="433.85" font-size="27.5" fill="#000" text-anchor="middle">**</text>
</svg></body></html>
